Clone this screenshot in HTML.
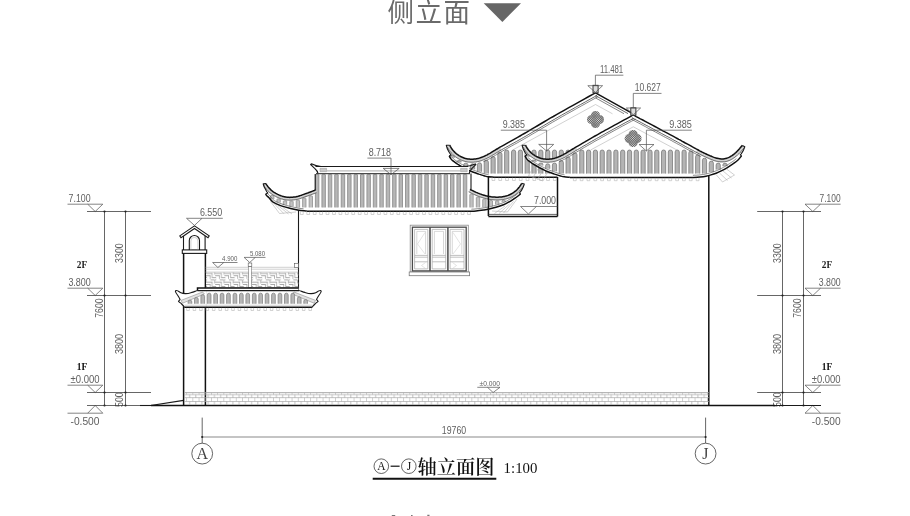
<!DOCTYPE html>
<html><head><meta charset="utf-8"><title>侧立面</title>
<style>
html,body{margin:0;padding:0;background:#fff}
body{width:910px;height:516px;overflow:hidden;position:relative}
svg{position:absolute;left:0;top:0;display:block;will-change:transform}
.d{font-family:"Liberation Sans",sans-serif;fill:#606060}
.s{font-family:"Liberation Serif","Noto Serif CJK SC",serif}
.m{font-family:"Liberation Mono",monospace}
.h{font-family:"Liberation Sans","Noto Sans CJK SC",sans-serif}
.k{stroke:#111;stroke-width:1.5;fill:none}
.k2{stroke:#1a1a1a;stroke-width:1.1;fill:none}
.n{stroke:#333;stroke-width:.75;fill:none}
.t{stroke:#505050;stroke-width:.7;fill:none}
.g{stroke:#aaa;stroke-width:.55;fill:none}
</style></head><body>
<svg width="910" height="516" viewBox="0 0 910 516">
<text class="h" x="387.6" y="21.5" font-size="26.5" font-weight="400" fill="#6a6a6a" letter-spacing="1.5">侧立面</text>
<path d="M483.7 3.3H521L502.4 22Z" fill="#666"/>
<path d="M391.8 515.6H395.2M411 515.5H412.6M427.3 515.3H429.5" stroke="#777" stroke-width="1.2"/>
<path class="n" d="M87 211.5H151"/>
<path class="n" d="M87 295.5H151"/>
<path class="n" d="M87 392.5H151"/>
<path class="n" d="M104.5 211.5V405.5 M125.5 211.5V405.5"/>
<circle cx="104.5" cy="211.5" r="1.1" fill="#222"/>
<circle cx="125.5" cy="211.5" r="1.1" fill="#222"/>
<circle cx="104.5" cy="295.5" r="1.1" fill="#222"/>
<circle cx="125.5" cy="295.5" r="1.1" fill="#222"/>
<circle cx="104.5" cy="392.5" r="1.1" fill="#222"/>
<circle cx="125.5" cy="392.5" r="1.1" fill="#222"/>
<circle cx="104.5" cy="405.5" r="1.1" fill="#222"/>
<circle cx="125.5" cy="405.5" r="1.1" fill="#222"/>
<path class="t" d="M67.5 204.2H102.8L95.2 211.5L87.7 204.2"/>
<path class="t" d="M67.5 288.2H102.8L95.2 295.5L87.7 288.2"/>
<path class="t" d="M67.5 385.2H102.8L95.2 392.5L87.7 385.2"/>
<text class="d" x="68.6" y="201.8" font-size="11" textLength="22" lengthAdjust="spacingAndGlyphs" text-anchor="start">7.100</text>
<text class="d" x="68.4" y="285.8" font-size="11" textLength="22.4" lengthAdjust="spacingAndGlyphs" text-anchor="start">3.800</text>
<text class="d" x="70.5" y="382.6" font-size="11" textLength="29" lengthAdjust="spacingAndGlyphs" text-anchor="start">±0.000</text>
<path class="t" d="M67.5 413.2H102.8L95.2 405.5L87.7 413.2"/>
<text class="d" x="70.5" y="425.2" font-size="11" textLength="29" lengthAdjust="spacingAndGlyphs" text-anchor="start">-0.500</text>
<text class="s" x="82" y="268.3" font-size="9.3" font-weight="bold" text-anchor="middle" fill="#222">2F</text>
<text class="s" x="82" y="369.8" font-size="9.5" font-weight="bold" text-anchor="middle" fill="#111">1F</text>
<text class="d" transform="translate(122.6 253.1) rotate(-90)" font-size="11" textLength="19.6" lengthAdjust="spacingAndGlyphs" text-anchor="middle">3300</text>
<text class="d" transform="translate(122.6 344) rotate(-90)" font-size="11" textLength="20.2" lengthAdjust="spacingAndGlyphs" text-anchor="middle">3800</text>
<text class="d" transform="translate(103.2 308.1) rotate(-90)" font-size="11" textLength="19.2" lengthAdjust="spacingAndGlyphs" text-anchor="middle">7600</text>
<text class="d" transform="translate(122.6 399.6) rotate(-90)" font-size="11" textLength="14.8" lengthAdjust="spacingAndGlyphs" text-anchor="middle">500</text>
<path class="n" d="M757.2 211.5H821"/>
<path class="n" d="M757.2 295.5H821"/>
<path class="n" d="M757.2 392.5H821"/>
<path class="n" d="M782.5 211.5V405.5 M803.5 211.5V405.5"/>
<circle cx="782.5" cy="211.5" r="1.1" fill="#222"/>
<circle cx="803.5" cy="211.5" r="1.1" fill="#222"/>
<circle cx="782.5" cy="295.5" r="1.1" fill="#222"/>
<circle cx="803.5" cy="295.5" r="1.1" fill="#222"/>
<circle cx="782.5" cy="392.5" r="1.1" fill="#222"/>
<circle cx="803.5" cy="392.5" r="1.1" fill="#222"/>
<circle cx="782.5" cy="405.5" r="1.1" fill="#222"/>
<circle cx="803.5" cy="405.5" r="1.1" fill="#222"/>
<path class="t" d="M840.6 204.2H805L812.8 211.5L820.5 204.2"/>
<path class="t" d="M840.6 288.2H805L812.8 295.5L820.5 288.2"/>
<path class="t" d="M840.6 385.2H805L812.8 392.5L820.5 385.2"/>
<text class="d" x="819.6" y="201.8" font-size="11" textLength="21" lengthAdjust="spacingAndGlyphs" text-anchor="start">7.100</text>
<text class="d" x="818.8" y="285.8" font-size="11" textLength="21.8" lengthAdjust="spacingAndGlyphs" text-anchor="start">3.800</text>
<text class="d" x="811.8" y="382.5" font-size="11" textLength="28.8" lengthAdjust="spacingAndGlyphs" text-anchor="start">±0.000</text>
<path class="t" d="M840.6 413.2H805L812.8 405.5L820.5 413.2"/>
<text class="d" x="811.8" y="425.1" font-size="11" textLength="28.8" lengthAdjust="spacingAndGlyphs" text-anchor="start">-0.500</text>
<text class="s" x="827" y="268.3" font-size="9.3" font-weight="bold" text-anchor="middle" fill="#222">2F</text>
<text class="s" x="827" y="369.8" font-size="9.5" font-weight="bold" text-anchor="middle" fill="#111">1F</text>
<text class="d" transform="translate(780.6 253.1) rotate(-90)" font-size="11" textLength="19.6" lengthAdjust="spacingAndGlyphs" text-anchor="middle">3300</text>
<text class="d" transform="translate(780.6 344) rotate(-90)" font-size="11" textLength="20.2" lengthAdjust="spacingAndGlyphs" text-anchor="middle">3800</text>
<text class="d" transform="translate(800.9 308.1) rotate(-90)" font-size="11" textLength="19.2" lengthAdjust="spacingAndGlyphs" text-anchor="middle">7600</text>
<text class="d" transform="translate(780.6 399.6) rotate(-90)" font-size="11" textLength="14.8" lengthAdjust="spacingAndGlyphs" text-anchor="middle">500</text>
<path class="n" d="M87 405.5H151"/>
<path class="k2" stroke-width=".9" d="M150.7 405.5L183.6 400.4"/>
<path class="k2" d="M140 405.5H151"/>
<path class="k" d="M151 405.5H775"/>
<path class="k2" stroke-width=".9" d="M775 405.5H821"/>
<path class="k" stroke-width="1.3" d="M708.8 176V405.5"/>
<path class="k2" d="M298.5 211V290"/>
<path class="k" stroke-width="1.3" d="M183.6 253.3V405.5"/>
<path class="k" stroke-width="1.8" d="M205.4 253.3V405.5"/>
<path class="n" d="M202.2 417.6V443.1 M705.6 417.6V443.1"/>
<path stroke="#8a8a8a" stroke-width="1.1" d="M202.2 437H705.6"/>
<circle cx="202.2" cy="437" r="1.1" fill="#222"/>
<circle cx="705.6" cy="437" r="1.1" fill="#222"/>
<circle class="n" stroke="#444" stroke-width=".7" cx="202.2" cy="453.6" r="10.4"/>
<circle class="n" stroke="#444" stroke-width=".7" cx="705.6" cy="453.6" r="10.4"/>
<text class="s" x="202.2" y="459" font-size="16" text-anchor="middle" fill="#444">A</text>
<text class="s" x="705.4" y="459" font-size="16" text-anchor="middle" fill="#444">J</text>
<text class="d" x="441.8" y="433.8" font-size="10.5" textLength="24.4" lengthAdjust="spacingAndGlyphs" text-anchor="start">19760</text>
<circle class="n" cx="381.3" cy="466.2" r="7.3" stroke="#222"/>
<circle class="n" cx="408.8" cy="466.2" r="7.3" stroke="#222"/>
<text class="s" x="381.3" y="470.2" font-size="11.5" text-anchor="middle" fill="#111">A</text>
<text class="s" x="408.9" y="470.2" font-size="11.5" text-anchor="middle" fill="#111">J</text>
<path d="M390.6 466.2H399.6" stroke="#111" stroke-width="1.2"/>
<text class="s" x="417.5" y="473.5" font-size="19.2" font-weight="600" fill="#111" textLength="77" lengthAdjust="spacing">轴立面图</text>
<path d="M372.7 478.7H496.3" stroke="#111" stroke-width="2"/>
<text class="s" x="503.6" y="473" font-size="15" fill="#111" textLength="33.8" lengthAdjust="spacingAndGlyphs">1:100</text>
<pattern id="bk" x="186.2" y="392.5" width="6.2" height="13.2" patternUnits="userSpaceOnUse"><path d="M0 2.1H6.2M0 5.2H6.2M0 9H6.2M.3 0V2.1M3.4 2.1V5.2M.3 5.2V9M3.4 9V13" stroke="#a2a2a2" stroke-width=".65" fill="none"/></pattern>
<rect x="184" y="392.5" width="525" height="12.6" fill="url(#bk)"/>
<path stroke="#9a9a9a" stroke-width=".8" d="M184.6 392.6H709"/>
<path class="t" d="M477.3 387.3H500L493.1 392.5L487.5 387.3"/>
<text class="d" x="479.6" y="385.8" font-size="7.2" textLength="20.4" lengthAdjust="spacingAndGlyphs" text-anchor="start">±0.000</text>
<rect x="410.2" y="225.2" width="58.1" height="46.8" fill="#fff" stroke="#8a8a8a" stroke-width=".8"/>
<rect x="409.2" y="272" width="60.4" height="3.7" fill="#fff" stroke="#7a7a7a" stroke-width=".8"/>
<path d="M414.6 229.4H427.8V268.9H414.6ZM432.2 229.4H445.7V268.9H432.2ZM450.1 229.4H464V268.9H450.1Z M414.6 255.4H427.8M432.2 255.4H445.7M450.1 255.4H464 M414.6 257.2H427.8M432.2 257.2H445.7M450.1 257.2H464 M414.6 261.8H427.8M432.2 261.8H445.7M450.1 261.8H464" stroke="#a6a6a6" stroke-width=".7" fill="none"/>
<path d="M416.8 231.4V254M425.6 231.4V254M434.4 231.4V254M443.5 231.4V254M452.3 231.4V254M461.8 231.4V254M416.8 231.4H425.6M434.4 231.4H443.5M452.3 231.4H461.8" stroke="#bdbdbd" stroke-width=".6" fill="none"/>
<path d="M425 232.5L417.5 244L425 254M425.5 262.5L421.5 265.5L425.5 268.5M453 232.5L460.5 244L453 254M452.5 262.5L456.5 265.5L452.5 268.5" stroke="#c6c6c6" stroke-width=".5" fill="none"/>
<rect x="412.4" y="227.2" width="53.8" height="43.7" fill="none" stroke="#4a4a4a" stroke-width="1.3"/>
<path d="M430 227.2V270.9M447.9 227.2V270.9" stroke="#4a4a4a" stroke-width="1.5"/>
<rect class="k2" stroke-width="1.2" x="182.3" y="249.9" width="24.4" height="3.5" fill="#fff"/>
<path class="k2" stroke-width="1.2" d="M183.5 249.9V236M205.1 249.9V236"/>
<path class="k2" stroke-width="1.3" d="M189.3 249.9V240.6A5.1 5.1 0 0 1 199.5 240.6V249.9"/>
<path class="g" stroke="#999" d="M190.9 249.5V241A3.5 3.6 0 0 1 197.9 241V249.5"/>
<path class="k2" stroke-width="1.2" stroke-linejoin="miter" d="M179.8 235.9L194.5 225.8L209.2 235.9L208 237.7L194.5 228.5L181 237.7Z" fill="#fff"/>
<path class="t" d="M186.5 218.3H222.8M186.5 218.3L194.5 225.4L202 218.3"/>
<text class="d" x="199.9" y="215.9" font-size="11" textLength="22.3" lengthAdjust="spacingAndGlyphs" text-anchor="start">6.550</text>
<pattern id="lat" x="206" y="272.3" width="9.2" height="8.8" patternUnits="userSpaceOnUse"><path d="M-1 2.2H5.2V6.6M4.6 6.6H10.2M9.6 6.6V11M9.6 -2.2V2.2M-4.6 6.6H1" stroke="#8c8c8c" stroke-width="2.7" fill="none"/><path d="M-1 2.2H5.2V6.6M4.6 6.6H10.2M9.6 6.6V11M9.6 -2.2V2.2M-4.6 6.6H1" stroke="#fff" stroke-width="1.5" fill="none"/></pattern>
<rect x="206" y="272.3" width="92.2" height="15.2" fill="url(#lat)"/>
<path class="g" stroke="#888" d="M205.4 267.3H298.5M205.4 269.2H298.5M205.4 272.1H298.5M205.4 287.6H298.5"/>
<rect x="248.6" y="266.3" width="2.8" height="21" fill="#fff" stroke="#777" stroke-width=".6"/>
<rect x="248.2" y="263" width="3.6" height="3.3" fill="#fff" stroke="#555" stroke-width=".6"/>
<rect x="294.5" y="263.3" width="4" height="4.1" fill="#fff" stroke="#555" stroke-width=".6"/>
<path class="t" d="M212.6 262.5H237.5M212.6 262.5L217.9 267.5L223.8 262.5"/>
<text class="d" x="222.1" y="260.6" font-size="7.4" textLength="15.2" lengthAdjust="spacingAndGlyphs" text-anchor="start">4.900</text>
<path class="t" d="M244.1 257.4H265.5M244.1 257.4L249.7 262.5L255.3 257.4"/>
<text class="d" x="250" y="255.8" font-size="7.4" textLength="15" lengthAdjust="spacingAndGlyphs" text-anchor="start">5.080</text>
<g>
<path d="M197.5 290.5C195 291.3 193.5 292 191.7 292.4C189.5 293.1 187.5 293.6 185.5 293.6C183.8 293.6 182.3 293.4 180.9 292.8C179.7 292.3 178.8 291.5 177.8 290.9C177.1 290.5 176.5 290.4 175.8 290.5L175.4 291.6C176 293 176.9 294.3 177.8 295.5C178.7 296.9 179.5 298.2 180.1 299.4L178.5 301.3C179.6 302.3 180.7 303.2 181.6 304L183.6 306L184.3 307H206.5V288Z" fill="#fff"/>
<path d="M202.6 292L181 300.4L182.6 303.2L204.4 294Z" fill="#e2e2e2" stroke="#777" stroke-width=".5"/>
<path class="k2" stroke-width="1.2" stroke-linejoin="round" d="M197.5 290.5C195 291.3 193.5 292 191.7 292.4C189.5 293.1 187.5 293.6 185.5 293.6C183.8 293.6 182.3 293.4 180.9 292.8C179.7 292.3 178.8 291.5 177.8 290.9C177.1 290.5 176.5 290.4 175.8 290.5L175.4 291.6C176 293 176.9 294.3 177.8 295.5C178.7 296.9 179.5 298.2 180.1 299.4L178.5 301.3C179.6 302.3 180.7 303.2 181.6 304L183.6 306L184.3 307"/>
</g>
<g transform="translate(496.6 0) scale(-1 1)">
<path d="M197.5 290.5C195 291.3 193.5 292 191.7 292.4C189.5 293.1 187.5 293.6 185.5 293.6C183.8 293.6 182.3 293.4 180.9 292.8C179.7 292.3 178.8 291.5 177.8 290.9C177.1 290.5 176.5 290.4 175.8 290.5L175.4 291.6C176 293 176.9 294.3 177.8 295.5C178.7 296.9 179.5 298.2 180.1 299.4L178.5 301.3C179.6 302.3 180.7 303.2 181.6 304L183.6 306L184.3 307H206.5V288Z" fill="#fff"/>
<path d="M202.6 292L181 300.4L182.6 303.2L204.4 294Z" fill="#e2e2e2" stroke="#777" stroke-width=".5"/>
<path class="k2" stroke-width="1.2" stroke-linejoin="round" d="M197.5 290.5C195 291.3 193.5 292 191.7 292.4C189.5 293.1 187.5 293.6 185.5 293.6C183.8 293.6 182.3 293.4 180.9 292.8C179.7 292.3 178.8 291.5 177.8 290.9C177.1 290.5 176.5 290.4 175.8 290.5L175.4 291.6C176 293 176.9 294.3 177.8 295.5C178.7 296.9 179.5 298.2 180.1 299.4L178.5 301.3C179.6 302.3 180.7 303.2 181.6 304L183.6 306L184.3 307"/>
</g>
<path d="M188.1 303.7V301.9Q188.1 300.1 189.9 300.1Q191.8 300.1 191.8 301.9V303.7" fill="#b6b6b6" stroke="#7a7a7a" stroke-width=".7"/>
<path d="M194.5 303.7V299.2Q194.5 297.4 196.3 297.4Q198.2 297.4 198.2 299.2V303.7" fill="#b6b6b6" stroke="#7a7a7a" stroke-width=".7"/>
<path d="M200.9 303.7V296.5Q200.9 294.7 202.8 294.7Q204.6 294.7 204.6 296.5V303.7" fill="#b6b6b6" stroke="#7a7a7a" stroke-width=".7"/>
<path d="M207.3 303.7V295Q207.3 293.2 209.2 293.2Q211 293.2 211 295V303.7" fill="#b6b6b6" stroke="#7a7a7a" stroke-width=".7"/>
<path d="M213.8 303.7V295Q213.8 293.2 215.6 293.2Q217.5 293.2 217.5 295V303.7" fill="#b6b6b6" stroke="#7a7a7a" stroke-width=".7"/>
<path d="M220.2 303.7V295Q220.2 293.2 222.1 293.2Q223.9 293.2 223.9 295V303.7" fill="#b6b6b6" stroke="#7a7a7a" stroke-width=".7"/>
<path d="M226.6 303.7V295Q226.6 293.2 228.5 293.2Q230.3 293.2 230.3 295V303.7" fill="#b6b6b6" stroke="#7a7a7a" stroke-width=".7"/>
<path d="M233.1 303.7V295Q233.1 293.2 234.9 293.2Q236.8 293.2 236.8 295V303.7" fill="#b6b6b6" stroke="#7a7a7a" stroke-width=".7"/>
<path d="M239.5 303.7V295Q239.5 293.2 241.3 293.2Q243.2 293.2 243.2 295V303.7" fill="#b6b6b6" stroke="#7a7a7a" stroke-width=".7"/>
<path d="M245.9 303.7V295Q245.9 293.2 247.8 293.2Q249.6 293.2 249.6 295V303.7" fill="#b6b6b6" stroke="#7a7a7a" stroke-width=".7"/>
<path d="M252.4 303.7V295Q252.4 293.2 254.2 293.2Q256.1 293.2 256.1 295V303.7" fill="#b6b6b6" stroke="#7a7a7a" stroke-width=".7"/>
<path d="M258.8 303.7V295Q258.8 293.2 260.6 293.2Q262.5 293.2 262.5 295V303.7" fill="#b6b6b6" stroke="#7a7a7a" stroke-width=".7"/>
<path d="M265.2 303.7V295Q265.2 293.2 267.1 293.2Q268.9 293.2 268.9 295V303.7" fill="#b6b6b6" stroke="#7a7a7a" stroke-width=".7"/>
<path d="M271.6 303.7V295Q271.6 293.2 273.5 293.2Q275.3 293.2 275.3 295V303.7" fill="#b6b6b6" stroke="#7a7a7a" stroke-width=".7"/>
<path d="M278.1 303.7V295Q278.1 293.2 279.9 293.2Q281.8 293.2 281.8 295V303.7" fill="#b6b6b6" stroke="#7a7a7a" stroke-width=".7"/>
<path d="M284.5 303.7V295Q284.5 293.2 286.4 293.2Q288.2 293.2 288.2 295V303.7" fill="#b6b6b6" stroke="#7a7a7a" stroke-width=".7"/>
<path d="M290.9 303.7V295Q290.9 293.2 292.8 293.2Q294.6 293.2 294.6 295V303.7" fill="#b6b6b6" stroke="#7a7a7a" stroke-width=".7"/>
<path d="M297.4 303.7V298.6Q297.4 296.8 299.2 296.8Q301.1 296.8 301.1 298.6V303.7" fill="#b6b6b6" stroke="#7a7a7a" stroke-width=".7"/>
<path d="M303.8 303.7V301.3Q303.8 299.5 305.6 299.5Q307.5 299.5 307.5 301.3V303.7" fill="#b6b6b6" stroke="#7a7a7a" stroke-width=".7"/>
<rect x="197.5" y="288.1" width="101" height="2.2" fill="#fff"/>
<path class="k" stroke-width="1.1" d="M197.5 290.8V288H298.6"/>
<path class="k2" stroke-width=".9" d="M197.5 290.6H299"/>
<path class="g" stroke="#c4c4c4" d="M184.5 305.2H312.2"/>
<path class="k" stroke-width="1.1" d="M184.3 307.3H312.4"/>
<path d="M186.7 307.8v2.7h2.6v-2.7M193.1 307.8v2.7h2.6v-2.7M199.6 307.8v2.7h2.6v-2.7M206 307.8v2.7h2.6v-2.7M212.4 307.8v2.7h2.6v-2.7M218.9 307.8v2.7h2.6v-2.7M225.3 307.8v2.7h2.6v-2.7M231.7 307.8v2.7h2.6v-2.7M238.1 307.8v2.7h2.6v-2.7M244.6 307.8v2.7h2.6v-2.7M251 307.8v2.7h2.6v-2.7M257.4 307.8v2.7h2.6v-2.7M263.9 307.8v2.7h2.6v-2.7M270.3 307.8v2.7h2.6v-2.7M276.7 307.8v2.7h2.6v-2.7M283.2 307.8v2.7h2.6v-2.7M289.6 307.8v2.7h2.6v-2.7M296 307.8v2.7h2.6v-2.7M302.4 307.8v2.7h2.6v-2.7M308.9 307.8v2.7h2.6v-2.7" fill="none" stroke="#a8a8a8" stroke-width=".5"/>
<path d="M315.4 207.4V174.7Q315.4 174.3 317.2 174.3Q318.9 174.3 318.9 174.7V207.4" fill="#b6b6b6" stroke="#7c7c7c" stroke-width=".7"/>
<path d="M321.9 207.4V174.7Q321.9 174.3 323.6 174.3Q325.4 174.3 325.4 174.7V207.4" fill="#b6b6b6" stroke="#7c7c7c" stroke-width=".7"/>
<path d="M328.3 207.4V174.7Q328.3 174.3 330.1 174.3Q331.8 174.3 331.8 174.7V207.4" fill="#b6b6b6" stroke="#7c7c7c" stroke-width=".7"/>
<path d="M334.7 207.4V174.7Q334.7 174.3 336.5 174.3Q338.2 174.3 338.2 174.7V207.4" fill="#b6b6b6" stroke="#7c7c7c" stroke-width=".7"/>
<path d="M341.2 207.4V174.7Q341.2 174.3 342.9 174.3Q344.7 174.3 344.7 174.7V207.4" fill="#b6b6b6" stroke="#7c7c7c" stroke-width=".7"/>
<path d="M347.6 207.4V174.7Q347.6 174.3 349.4 174.3Q351.1 174.3 351.1 174.7V207.4" fill="#b6b6b6" stroke="#7c7c7c" stroke-width=".7"/>
<path d="M354 207.4V174.7Q354 174.3 355.8 174.3Q357.5 174.3 357.5 174.7V207.4" fill="#b6b6b6" stroke="#7c7c7c" stroke-width=".7"/>
<path d="M360.5 207.4V174.7Q360.5 174.3 362.2 174.3Q364 174.3 364 174.7V207.4" fill="#b6b6b6" stroke="#7c7c7c" stroke-width=".7"/>
<path d="M366.9 207.4V174.7Q366.9 174.3 368.6 174.3Q370.4 174.3 370.4 174.7V207.4" fill="#b6b6b6" stroke="#7c7c7c" stroke-width=".7"/>
<path d="M373.3 207.4V174.7Q373.3 174.3 375.1 174.3Q376.8 174.3 376.8 174.7V207.4" fill="#b6b6b6" stroke="#7c7c7c" stroke-width=".7"/>
<path d="M379.8 207.4V174.7Q379.8 174.3 381.5 174.3Q383.3 174.3 383.3 174.7V207.4" fill="#b6b6b6" stroke="#7c7c7c" stroke-width=".7"/>
<path d="M386.2 207.4V174.7Q386.2 174.3 387.9 174.3Q389.7 174.3 389.7 174.7V207.4" fill="#b6b6b6" stroke="#7c7c7c" stroke-width=".7"/>
<path d="M392.6 207.4V174.7Q392.6 174.3 394.4 174.3Q396.1 174.3 396.1 174.7V207.4" fill="#b6b6b6" stroke="#7c7c7c" stroke-width=".7"/>
<path d="M399 207.4V174.7Q399 174.3 400.8 174.3Q402.5 174.3 402.5 174.7V207.4" fill="#b6b6b6" stroke="#7c7c7c" stroke-width=".7"/>
<path d="M405.5 207.4V174.7Q405.5 174.3 407.2 174.3Q409 174.3 409 174.7V207.4" fill="#b6b6b6" stroke="#7c7c7c" stroke-width=".7"/>
<path d="M411.9 207.4V174.7Q411.9 174.3 413.7 174.3Q415.4 174.3 415.4 174.7V207.4" fill="#b6b6b6" stroke="#7c7c7c" stroke-width=".7"/>
<path d="M418.3 207.4V174.7Q418.3 174.3 420.1 174.3Q421.8 174.3 421.8 174.7V207.4" fill="#b6b6b6" stroke="#7c7c7c" stroke-width=".7"/>
<path d="M424.8 207.4V174.7Q424.8 174.3 426.5 174.3Q428.3 174.3 428.3 174.7V207.4" fill="#b6b6b6" stroke="#7c7c7c" stroke-width=".7"/>
<path d="M431.2 207.4V174.7Q431.2 174.3 432.9 174.3Q434.7 174.3 434.7 174.7V207.4" fill="#b6b6b6" stroke="#7c7c7c" stroke-width=".7"/>
<path d="M437.6 207.4V174.7Q437.6 174.3 439.4 174.3Q441.1 174.3 441.1 174.7V207.4" fill="#b6b6b6" stroke="#7c7c7c" stroke-width=".7"/>
<path d="M444.1 207.4V174.7Q444.1 174.3 445.8 174.3Q447.6 174.3 447.6 174.7V207.4" fill="#b6b6b6" stroke="#7c7c7c" stroke-width=".7"/>
<path d="M450.5 207.4V174.7Q450.5 174.3 452.2 174.3Q454 174.3 454 174.7V207.4" fill="#b6b6b6" stroke="#7c7c7c" stroke-width=".7"/>
<path d="M456.9 207.4V174.7Q456.9 174.3 458.7 174.3Q460.4 174.3 460.4 174.7V207.4" fill="#b6b6b6" stroke="#7c7c7c" stroke-width=".7"/>
<path d="M463.3 207.4V174.7Q463.3 174.3 465.1 174.3Q466.8 174.3 466.8 174.7V207.4" fill="#b6b6b6" stroke="#7c7c7c" stroke-width=".7"/>
<path d="M309.1 207.4V196.2Q309.1 195.8 310.8 195.8Q312.5 195.8 312.5 196.2V207.4" fill="#c2c2c2" stroke="#858585" stroke-width=".7"/>
<path d="M302.6 207.4V198.5Q302.6 198.1 304.3 198.1Q306 198.1 306 198.5V207.4" fill="#c2c2c2" stroke="#858585" stroke-width=".7"/>
<path d="M296.2 207.4V200.6Q296.2 200.2 297.9 200.2Q299.6 200.2 299.6 200.6V207.4" fill="#c2c2c2" stroke="#858585" stroke-width=".7"/>
<path d="M289.8 206.3V201.5Q289.8 201.1 291.5 201.1Q293.2 201.1 293.2 201.5V206.3" fill="#c2c2c2" stroke="#858585" stroke-width=".7"/>
<path d="M283.3 204.7V201.2Q283.3 200.8 285 200.8Q286.7 200.8 286.7 201.2V204.7" fill="#c2c2c2" stroke="#858585" stroke-width=".7"/>
<path d="M276.9 202.5V199.3Q276.9 198.9 278.6 198.9Q280.3 198.9 280.3 199.3V202.5" fill="#c2c2c2" stroke="#858585" stroke-width=".7"/>
<path d="M270.5 199.1V195.8Q270.5 195.4 272.2 195.4Q273.9 195.4 273.9 195.8V199.1" fill="#c2c2c2" stroke="#858585" stroke-width=".7"/>
<path d="M469.8 207.4V194.6Q469.8 194.2 471.5 194.2Q473.2 194.2 473.2 194.6V207.4" fill="#c2c2c2" stroke="#858585" stroke-width=".7"/>
<path d="M476.3 207.4V197.5Q476.3 197.1 478 197.1Q479.7 197.1 479.7 197.5V207.4" fill="#c2c2c2" stroke="#858585" stroke-width=".7"/>
<path d="M482.7 207.4V199.6Q482.7 199.2 484.4 199.2Q486.1 199.2 486.1 199.6V207.4" fill="#c2c2c2" stroke="#858585" stroke-width=".7"/>
<path d="M489.1 206.2V200.9Q489.1 200.5 490.8 200.5Q492.5 200.5 492.5 200.9V206.2" fill="#c2c2c2" stroke="#858585" stroke-width=".7"/>
<path d="M495.5 204.5V201.4Q495.5 201 497.2 201Q498.9 201 498.9 201.4V204.5" fill="#c2c2c2" stroke="#858585" stroke-width=".7"/>
<path d="M502 202.2V200.8Q502 200.4 503.7 200.4Q505.4 200.4 505.4 200.8V202.2" fill="#c2c2c2" stroke="#858585" stroke-width=".7"/>
<path class="k" d="M306.8 211.2H468"/>
<path d="M300.4 211.6v2.9h2.8v-2.9M306.8 211.6v2.9h2.8v-2.9M313.3 211.6v2.9h2.8v-2.9M319.7 211.6v2.9h2.8v-2.9M326.1 211.6v2.9h2.8v-2.9M332.6 211.6v2.9h2.8v-2.9M339 211.6v2.9h2.8v-2.9M345.4 211.6v2.9h2.8v-2.9M351.8 211.6v2.9h2.8v-2.9M358.3 211.6v2.9h2.8v-2.9M364.7 211.6v2.9h2.8v-2.9M371.1 211.6v2.9h2.8v-2.9M377.6 211.6v2.9h2.8v-2.9M384 211.6v2.9h2.8v-2.9M390.4 211.6v2.9h2.8v-2.9M396.9 211.6v2.9h2.8v-2.9M403.3 211.6v2.9h2.8v-2.9M409.7 211.6v2.9h2.8v-2.9M416.1 211.6v2.9h2.8v-2.9M422.6 211.6v2.9h2.8v-2.9M429 211.6v2.9h2.8v-2.9M435.4 211.6v2.9h2.8v-2.9M441.9 211.6v2.9h2.8v-2.9M448.3 211.6v2.9h2.8v-2.9M454.7 211.6v2.9h2.8v-2.9M461.2 211.6v2.9h2.8v-2.9M467.6 211.6v2.9h2.8v-2.9" fill="none" stroke="#a8a8a8" stroke-width=".5"/>
<path class="g" d="M270.5 201.5L279.5 213.5M274 203.5L284 213.8M278 205.5L288.5 214M282.5 207.2L292 214M279.5 213.5L296 212"/>
<path class="g" d="M517 199L507.5 212M513.5 201.5L503.5 213M509.5 204L499 213.5M505 206L494.5 213.5M507.5 212L492 211"/>
<path d="M266.1 183.6 L266.2 183.8 L266.4 184.1 L266.5 184.4 L266.7 184.8 L266.9 185.1 L267.2 185.5 L267.4 185.9 L267.6 186.2 L267.8 186.5 L268.1 186.8 L268.3 187.1 L268.5 187.4 L268.8 187.6 L269 187.9 L269.3 188.2 L269.6 188.5 L269.9 188.8 L270.2 189.1 L270.5 189.4 L270.8 189.8 L271.2 190.1 L271.5 190.4 L271.8 190.7 L272.2 191 L272.6 191.3 L272.9 191.6 L273.3 191.8 L273.7 192.1 L274.1 192.3 L274.5 192.6 L275 192.8 L275.4 193.1 L275.9 193.4 L276.3 193.6 L276.8 193.9 L277.3 194.1 L277.8 194.4 L278.3 194.6 L278.8 194.9 L279.3 195.1 L279.8 195.3 L280.3 195.5 L280.9 195.7 L281.4 195.9 L282 196.1 L282.5 196.3 L283.1 196.5 L283.6 196.6 L284.1 196.7 L284.7 196.8 L285.2 197 L285.8 197 L286.3 197.1 L286.9 197.2 L287.4 197.3 L288 197.3 L288.6 197.3 L289.2 197.3 L289.8 197.4 L290.4 197.3 L291.1 197.3 L291.7 197.3 L292.3 197.3 L292.9 197.2 L293.5 197.1 L294.1 197.1 L294.7 197 L295.3 196.9 L295.9 196.8 L296.4 196.7 L297 196.5 L297.6 196.4 L298.2 196.3 L298.7 196.1 L299.2 196 L299.7 195.8 L300.2 195.6 L300.8 195.4 L301.5 195.2 L302.2 194.9 L303.1 194.6 L304 194.3 L305.1 193.9 L306.2 193.5 L307.3 193.1 L308.4 192.7 L309.4 192.3 L310.3 192 L311.1 191.7 L311.9 191.4 L312.7 191.1 L313.5 190.8 L314.1 190.6 L314.7 190.3 L315.2 190.1 L315.6 190 L316.6 192.6 L316.2 192.8 L315.7 193 L315.1 193.2 L314.5 193.4 L313.7 193.7 L312.9 194 L312.1 194.3 L311.3 194.6 L310.4 195 L309.3 195.3 L308.3 195.7 L307.2 196.1 L306 196.5 L305 196.9 L304 197.2 L303.1 197.5 L302.4 197.8 L301.7 198 L301.1 198.2 L300.6 198.4 L300 198.6 L299.5 198.8 L298.9 199 L298.3 199.1 L297.6 199.3 L297 199.4 L296.4 199.5 L295.7 199.6 L295.1 199.8 L294.5 199.8 L293.8 199.9 L293.2 200 L292.5 200 L291.8 200.1 L291.2 200.1 L290.5 200.1 L289.8 200.2 L289.1 200.1 L288.5 200.1 L287.8 200.1 L287.2 200 L286.6 200 L285.9 199.9 L285.3 199.8 L284.7 199.7 L284.1 199.6 L283.5 199.5 L282.9 199.3 L282.3 199.1 L281.7 199 L281.1 198.8 L280.5 198.6 L279.9 198.4 L279.3 198.1 L278.8 197.9 L278.2 197.7 L277.6 197.4 L277.1 197.2 L276.5 196.9 L276 196.6 L275.5 196.3 L275 196.1 L274.5 195.8 L274 195.5 L273.5 195.3 L273.1 195 L272.6 194.7 L272.2 194.4 L271.8 194.1 L271.3 193.8 L270.9 193.5 L270.5 193.2 L270 192.8 L269.6 192.5 L269.2 192.1 L268.9 191.8 L268.5 191.4 L268.2 191.1 L267.9 190.7 L267.6 190.4 L267.3 190.1 L267 189.8 L266.7 189.5 L266.4 189.2 L266.2 188.9 L265.9 188.6 L265.6 188.2 L265.3 187.8 L265 187.4 L264.8 187 L264.5 186.5 L264.3 186.1 L264.1 185.7 L263.9 185.4 L263.8 185.1 L263.7 185Z" fill="#fff" stroke="none"/>
<path d="M266.1 183.6 L266.2 183.8 L266.4 184.1 L266.5 184.4 L266.7 184.8 L266.9 185.1 L267.2 185.5 L267.4 185.9 L267.6 186.2 L267.8 186.5 L268.1 186.8 L268.3 187.1 L268.5 187.4 L268.8 187.6 L269 187.9 L269.3 188.2 L269.6 188.5 L269.9 188.8 L270.2 189.1 L270.5 189.4 L270.8 189.8 L271.2 190.1 L271.5 190.4 L271.8 190.7 L272.2 191 L272.6 191.3 L272.9 191.6 L273.3 191.8 L273.7 192.1 L274.1 192.3 L274.5 192.6 L275 192.8 L275.4 193.1 L275.9 193.4 L276.3 193.6 L276.8 193.9 L277.3 194.1 L277.8 194.4 L278.3 194.6 L278.8 194.9 L279.3 195.1 L279.8 195.3 L280.3 195.5 L280.9 195.7 L281.4 195.9 L282 196.1 L282.5 196.3 L283.1 196.5 L283.6 196.6 L284.1 196.7 L284.7 196.8 L285.2 197 L285.8 197 L286.3 197.1 L286.9 197.2 L287.4 197.3 L288 197.3 L288.6 197.3 L289.2 197.3 L289.8 197.4 L290.4 197.3 L291.1 197.3 L291.7 197.3 L292.3 197.3 L292.9 197.2 L293.5 197.1 L294.1 197.1 L294.7 197 L295.3 196.9 L295.9 196.8 L296.4 196.7 L297 196.5 L297.6 196.4 L298.2 196.3 L298.7 196.1 L299.2 196 L299.7 195.8 L300.2 195.6 L300.8 195.4 L301.5 195.2 L302.2 194.9 L303.1 194.6 L304 194.3 L305.1 193.9 L306.2 193.5 L307.3 193.1 L308.4 192.7 L309.4 192.3 L310.3 192 L311.1 191.7 L311.9 191.4 L312.7 191.1 L313.5 190.8 L314.1 190.6 L314.7 190.3 L315.2 190.1 L315.6 190 L316.6 192.6 L316.2 192.8 L315.7 193 L315.1 193.2 L314.5 193.4 L313.7 193.7 L312.9 194 L312.1 194.3 L311.3 194.6 L310.4 195 L309.3 195.3 L308.3 195.7 L307.2 196.1 L306 196.5 L305 196.9 L304 197.2 L303.1 197.5 L302.4 197.8 L301.7 198 L301.1 198.2 L300.6 198.4 L300 198.6 L299.5 198.8 L298.9 199 L298.3 199.1 L297.6 199.3 L297 199.4 L296.4 199.5 L295.7 199.6 L295.1 199.8 L294.5 199.8 L293.8 199.9 L293.2 200 L292.5 200 L291.8 200.1 L291.2 200.1 L290.5 200.1 L289.8 200.2 L289.1 200.1 L288.5 200.1 L287.8 200.1 L287.2 200 L286.6 200 L285.9 199.9 L285.3 199.8 L284.7 199.7 L284.1 199.6 L283.5 199.5 L282.9 199.3 L282.3 199.1 L281.7 199 L281.1 198.8 L280.5 198.6 L279.9 198.4 L279.3 198.1 L278.8 197.9 L278.2 197.7 L277.6 197.4 L277.1 197.2 L276.5 196.9 L276 196.6 L275.5 196.3 L275 196.1 L274.5 195.8 L274 195.5 L273.5 195.3 L273.1 195 L272.6 194.7 L272.2 194.4 L271.8 194.1 L271.3 193.8 L270.9 193.5 L270.5 193.2 L270 192.8 L269.6 192.5 L269.2 192.1 L268.9 191.8 L268.5 191.4 L268.2 191.1 L267.9 190.7 L267.6 190.4 L267.3 190.1 L267 189.8 L266.7 189.5 L266.4 189.2 L266.2 188.9 L265.9 188.6 L265.6 188.2 L265.3 187.8 L265 187.4 L264.8 187 L264.5 186.5 L264.3 186.1 L264.1 185.7 L263.9 185.4 L263.8 185.1 L263.7 185Z" fill="#d2d2d2" stroke="none"/>
<path class="n" d="M263.7 185 L263.8 185.1 L263.9 185.4 L264.1 185.7 L264.3 186.1 L264.5 186.5 L264.8 187 L265 187.4 L265.3 187.8 L265.6 188.2 L265.9 188.6 L266.2 188.9 L266.4 189.2 L266.7 189.5 L267 189.8 L267.3 190.1 L267.6 190.4 L267.9 190.7 L268.2 191.1 L268.5 191.4 L268.9 191.8 L269.2 192.1 L269.6 192.5 L270 192.8 L270.5 193.2 L270.9 193.5 L271.3 193.8 L271.8 194.1 L272.2 194.4 L272.6 194.7 L273.1 195 L273.5 195.3 L274 195.5 L274.5 195.8 L275 196.1 L275.5 196.3 L276 196.6 L276.5 196.9 L277.1 197.2 L277.6 197.4 L278.2 197.7 L278.8 197.9 L279.3 198.1 L279.9 198.4 L280.5 198.6 L281.1 198.8 L281.7 199 L282.3 199.1 L282.9 199.3 L283.5 199.5 L284.1 199.6 L284.7 199.7 L285.3 199.8 L285.9 199.9 L286.6 200 L287.2 200 L287.8 200.1 L288.5 200.1 L289.1 200.1 L289.8 200.2 L290.5 200.1 L291.2 200.1 L291.8 200.1 L292.5 200 L293.2 200 L293.8 199.9 L294.5 199.8 L295.1 199.8 L295.7 199.6 L296.4 199.5 L297 199.4 L297.6 199.3 L298.3 199.1 L298.9 199 L299.5 198.8 L300 198.6 L300.6 198.4 L301.1 198.2 L301.7 198 L302.4 197.8 L303.1 197.5 L304 197.2 L305 196.9 L306 196.5 L307.2 196.1 L308.3 195.7 L309.3 195.3 L310.4 195 L311.3 194.6 L312.1 194.3 L312.9 194 L313.7 193.7 L314.5 193.4 L315.1 193.2 L315.7 193 L316.2 192.8 L316.6 192.6"/>
<path class="k" stroke-width="2.0" stroke-linejoin="round" d="M266.1 183.6 L266.2 183.8 L266.4 184.1 L266.5 184.4 L266.7 184.8 L266.9 185.1 L267.2 185.5 L267.4 185.9 L267.6 186.2 L267.8 186.5 L268.1 186.8 L268.3 187.1 L268.5 187.4 L268.8 187.6 L269 187.9 L269.3 188.2 L269.6 188.5 L269.9 188.8 L270.2 189.1 L270.5 189.4 L270.8 189.8 L271.2 190.1 L271.5 190.4 L271.8 190.7 L272.2 191 L272.6 191.3 L272.9 191.6 L273.3 191.8 L273.7 192.1 L274.1 192.3 L274.5 192.6 L275 192.8 L275.4 193.1 L275.9 193.4 L276.3 193.6 L276.8 193.9 L277.3 194.1 L277.8 194.4 L278.3 194.6 L278.8 194.9 L279.3 195.1 L279.8 195.3 L280.3 195.5 L280.9 195.7 L281.4 195.9 L282 196.1 L282.5 196.3 L283.1 196.5 L283.6 196.6 L284.1 196.7 L284.7 196.8 L285.2 197 L285.8 197 L286.3 197.1 L286.9 197.2 L287.4 197.3 L288 197.3 L288.6 197.3 L289.2 197.3 L289.8 197.4 L290.4 197.3 L291.1 197.3 L291.7 197.3 L292.3 197.3 L292.9 197.2 L293.5 197.1 L294.1 197.1 L294.7 197 L295.3 196.9 L295.9 196.8 L296.4 196.7 L297 196.5 L297.6 196.4 L298.2 196.3 L298.7 196.1 L299.2 196 L299.7 195.8 L300.2 195.6 L300.8 195.4 L301.5 195.2 L302.2 194.9 L303.1 194.6 L304 194.3 L305.1 193.9 L306.2 193.5 L307.3 193.1 L308.4 192.7 L309.4 192.3 L310.3 192 L311.1 191.7 L311.9 191.4 L312.7 191.1 L313.5 190.8 L314.1 190.6 L314.7 190.3 L315.2 190.1 L315.6 190"/>
<path class="k" d="M265.6 194C265.8 194.3 266.4 195.4 267 196C267.6 196.6 268 196.8 269 197.8C270 198.8 271.1 200.8 273.1 202.2C275.2 203.5 278.4 204.8 281.3 205.9C284.2 207 287.7 207.8 290.6 208.5C293.5 209.2 296 209.8 298.7 210.2C301.4 210.6 305.4 210.9 306.8 211.1"/>
<path class="t" d="M267.8 193.8 L268 194 L268.2 194.3 L268.4 194.5 L268.5 194.7 L268.6 194.8 L268.7 194.9 L268.9 195 L269.1 195.2 L269.3 195.4 L269.7 195.7 L270 196 L270.5 196.4 L270.9 196.9 L271.4 197.5 L271.8 198.1 L272.2 198.6 L272.7 199.2 L273.1 199.7 L273.6 200.1 L274.2 200.5 L274.9 201 L275.8 201.4 L276.7 201.9 L277.7 202.3 L278.7 202.8 L279.8 203.2 L280.9 203.6 L282 204 L283 204.4 L284.2 204.7 L285.3 205.1 L286.5 205.4 L287.7 205.7 L288.8 206 L290 206.3 L291.1 206.6 L292.1 206.8 L293.2 207.1 L294.2 207.3 L295.1 207.5 L296.1 207.7 L297.1 207.9 L298 208.1 L299 208.2 L300 208.4 L301.2 208.5 L302.3 208.6 L303.5 208.8"/>
<path class="k2" stroke-linejoin="round" d="M266.1 183.6L263.2 183.9C263.6 186 264.4 187.8 265.6 189.4C266.2 190.7 267 192 267.9 193.1L265.6 194"/>
<path d="M470 189.3 L470.4 189.5 L470.9 189.8 L471.5 190.1 L472.2 190.4 L472.9 190.8 L473.6 191.1 L474.3 191.5 L475 191.8 L475.6 192.1 L476.2 192.4 L476.9 192.6 L477.5 192.9 L478.1 193.2 L478.8 193.4 L479.4 193.7 L480 193.9 L480.6 194.1 L481.3 194.3 L481.9 194.6 L482.5 194.8 L483.2 195 L483.8 195.2 L484.4 195.3 L485 195.5 L485.6 195.7 L486.1 195.8 L486.7 195.9 L487.2 196.1 L487.8 196.2 L488.4 196.3 L488.9 196.4 L489.5 196.5 L490.1 196.6 L490.7 196.7 L491.3 196.8 L492 196.9 L492.6 196.9 L493.2 197 L493.9 197.1 L494.5 197.1 L495.1 197.1 L495.8 197.2 L496.4 197.2 L497 197.2 L497.7 197.2 L498.3 197.2 L498.9 197.1 L499.5 197.1 L500.1 197.1 L500.7 197 L501.2 196.9 L501.8 196.9 L502.3 196.8 L502.9 196.7 L503.4 196.6 L504 196.5 L504.6 196.4 L505.1 196.2 L505.7 196.1 L506.3 195.9 L506.8 195.8 L507.4 195.6 L508 195.4 L508.5 195.2 L509 195 L509.6 194.8 L510.1 194.5 L510.6 194.3 L511.1 194 L511.6 193.7 L512 193.5 L512.5 193.2 L513 192.9 L513.4 192.6 L513.8 192.3 L514.2 192 L514.6 191.7 L515 191.4 L515.4 191.1 L515.8 190.8 L516.2 190.5 L516.5 190.1 L516.9 189.8 L517.2 189.5 L517.5 189.1 L517.8 188.8 L518.1 188.4 L518.4 188.1 L518.7 187.8 L518.9 187.5 L519.2 187.1 L519.4 186.8 L519.7 186.5 L519.9 186.2 L520.1 185.9 L520.3 185.6 L520.5 185.3 L520.7 185 L520.9 184.7 L521.1 184.3 L521.2 184.1 L521.4 183.8 L521.5 183.6 L521.6 183.4 L524 184.8 L523.9 184.9 L523.8 185.2 L523.7 185.4 L523.5 185.7 L523.3 186.1 L523.1 186.4 L522.9 186.8 L522.6 187.2 L522.4 187.5 L522.2 187.8 L521.9 188.2 L521.7 188.5 L521.4 188.9 L521.1 189.2 L520.8 189.6 L520.5 189.9 L520.2 190.3 L519.9 190.6 L519.6 191 L519.2 191.4 L518.9 191.8 L518.5 192.1 L518.1 192.5 L517.6 192.9 L517.2 193.3 L516.8 193.6 L516.3 194 L515.9 194.3 L515.4 194.6 L514.9 195 L514.5 195.3 L513.9 195.6 L513.4 195.9 L512.9 196.2 L512.4 196.5 L511.8 196.8 L511.3 197 L510.7 197.3 L510.1 197.6 L509.5 197.8 L508.9 198 L508.3 198.2 L507.7 198.4 L507 198.6 L506.4 198.8 L505.8 199 L505.2 199.1 L504.6 199.2 L504 199.4 L503.4 199.5 L502.8 199.6 L502.1 199.7 L501.5 199.7 L500.9 199.8 L500.3 199.8 L499.7 199.9 L499 199.9 L498.4 200 L497.7 200 L497 200 L496.4 200 L495.7 200 L495 199.9 L494.3 199.9 L493.7 199.8 L493 199.8 L492.3 199.7 L491.6 199.6 L491 199.6 L490.3 199.5 L489.7 199.4 L489 199.3 L488.4 199.2 L487.8 199 L487.2 198.9 L486.6 198.8 L486.1 198.7 L485.5 198.5 L484.9 198.4 L484.3 198.2 L483.6 198 L483 197.8 L482.3 197.6 L481.7 197.4 L481 197.2 L480.4 197 L479.7 196.8 L479 196.5 L478.4 196.3 L477.7 196 L477.1 195.8 L476.4 195.5 L475.8 195.2 L475.1 194.9 L474.5 194.6 L473.8 194.3 L473.1 194 L472.4 193.7 L471.6 193.3 L470.9 192.9 L470.2 192.6 L469.6 192.2 L469.1 192 L468.7 191.8Z" fill="#fff" stroke="none"/>
<path d="M470 189.3 L470.4 189.5 L470.9 189.8 L471.5 190.1 L472.2 190.4 L472.9 190.8 L473.6 191.1 L474.3 191.5 L475 191.8 L475.6 192.1 L476.2 192.4 L476.9 192.6 L477.5 192.9 L478.1 193.2 L478.8 193.4 L479.4 193.7 L480 193.9 L480.6 194.1 L481.3 194.3 L481.9 194.6 L482.5 194.8 L483.2 195 L483.8 195.2 L484.4 195.3 L485 195.5 L485.6 195.7 L486.1 195.8 L486.7 195.9 L487.2 196.1 L487.8 196.2 L488.4 196.3 L488.9 196.4 L489.5 196.5 L490.1 196.6 L490.7 196.7 L491.3 196.8 L492 196.9 L492.6 196.9 L493.2 197 L493.9 197.1 L494.5 197.1 L495.1 197.1 L495.8 197.2 L496.4 197.2 L497 197.2 L497.7 197.2 L498.3 197.2 L498.9 197.1 L499.5 197.1 L500.1 197.1 L500.7 197 L501.2 196.9 L501.8 196.9 L502.3 196.8 L502.9 196.7 L503.4 196.6 L504 196.5 L504.6 196.4 L505.1 196.2 L505.7 196.1 L506.3 195.9 L506.8 195.8 L507.4 195.6 L508 195.4 L508.5 195.2 L509 195 L509.6 194.8 L510.1 194.5 L510.6 194.3 L511.1 194 L511.6 193.7 L512 193.5 L512.5 193.2 L513 192.9 L513.4 192.6 L513.8 192.3 L514.2 192 L514.6 191.7 L515 191.4 L515.4 191.1 L515.8 190.8 L516.2 190.5 L516.5 190.1 L516.9 189.8 L517.2 189.5 L517.5 189.1 L517.8 188.8 L518.1 188.4 L518.4 188.1 L518.7 187.8 L518.9 187.5 L519.2 187.1 L519.4 186.8 L519.7 186.5 L519.9 186.2 L520.1 185.9 L520.3 185.6 L520.5 185.3 L520.7 185 L520.9 184.7 L521.1 184.3 L521.2 184.1 L521.4 183.8 L521.5 183.6 L521.6 183.4 L524 184.8 L523.9 184.9 L523.8 185.2 L523.7 185.4 L523.5 185.7 L523.3 186.1 L523.1 186.4 L522.9 186.8 L522.6 187.2 L522.4 187.5 L522.2 187.8 L521.9 188.2 L521.7 188.5 L521.4 188.9 L521.1 189.2 L520.8 189.6 L520.5 189.9 L520.2 190.3 L519.9 190.6 L519.6 191 L519.2 191.4 L518.9 191.8 L518.5 192.1 L518.1 192.5 L517.6 192.9 L517.2 193.3 L516.8 193.6 L516.3 194 L515.9 194.3 L515.4 194.6 L514.9 195 L514.5 195.3 L513.9 195.6 L513.4 195.9 L512.9 196.2 L512.4 196.5 L511.8 196.8 L511.3 197 L510.7 197.3 L510.1 197.6 L509.5 197.8 L508.9 198 L508.3 198.2 L507.7 198.4 L507 198.6 L506.4 198.8 L505.8 199 L505.2 199.1 L504.6 199.2 L504 199.4 L503.4 199.5 L502.8 199.6 L502.1 199.7 L501.5 199.7 L500.9 199.8 L500.3 199.8 L499.7 199.9 L499 199.9 L498.4 200 L497.7 200 L497 200 L496.4 200 L495.7 200 L495 199.9 L494.3 199.9 L493.7 199.8 L493 199.8 L492.3 199.7 L491.6 199.6 L491 199.6 L490.3 199.5 L489.7 199.4 L489 199.3 L488.4 199.2 L487.8 199 L487.2 198.9 L486.6 198.8 L486.1 198.7 L485.5 198.5 L484.9 198.4 L484.3 198.2 L483.6 198 L483 197.8 L482.3 197.6 L481.7 197.4 L481 197.2 L480.4 197 L479.7 196.8 L479 196.5 L478.4 196.3 L477.7 196 L477.1 195.8 L476.4 195.5 L475.8 195.2 L475.1 194.9 L474.5 194.6 L473.8 194.3 L473.1 194 L472.4 193.7 L471.6 193.3 L470.9 192.9 L470.2 192.6 L469.6 192.2 L469.1 192 L468.7 191.8Z" fill="#d2d2d2" stroke="none"/>
<path class="n" d="M468.7 191.8 L469.1 192 L469.6 192.2 L470.2 192.6 L470.9 192.9 L471.6 193.3 L472.4 193.7 L473.1 194 L473.8 194.3 L474.5 194.6 L475.1 194.9 L475.8 195.2 L476.4 195.5 L477.1 195.8 L477.7 196 L478.4 196.3 L479 196.5 L479.7 196.8 L480.4 197 L481 197.2 L481.7 197.4 L482.3 197.6 L483 197.8 L483.6 198 L484.3 198.2 L484.9 198.4 L485.5 198.5 L486.1 198.7 L486.6 198.8 L487.2 198.9 L487.8 199 L488.4 199.2 L489 199.3 L489.7 199.4 L490.3 199.5 L491 199.6 L491.6 199.6 L492.3 199.7 L493 199.8 L493.7 199.8 L494.3 199.9 L495 199.9 L495.7 200 L496.4 200 L497 200 L497.7 200 L498.4 200 L499 199.9 L499.7 199.9 L500.3 199.8 L500.9 199.8 L501.5 199.7 L502.1 199.7 L502.8 199.6 L503.4 199.5 L504 199.4 L504.6 199.2 L505.2 199.1 L505.8 199 L506.4 198.8 L507 198.6 L507.7 198.4 L508.3 198.2 L508.9 198 L509.5 197.8 L510.1 197.6 L510.7 197.3 L511.3 197 L511.8 196.8 L512.4 196.5 L512.9 196.2 L513.4 195.9 L513.9 195.6 L514.5 195.3 L514.9 195 L515.4 194.6 L515.9 194.3 L516.3 194 L516.8 193.6 L517.2 193.3 L517.6 192.9 L518.1 192.5 L518.5 192.1 L518.9 191.8 L519.2 191.4 L519.6 191 L519.9 190.6 L520.2 190.3 L520.5 189.9 L520.8 189.6 L521.1 189.2 L521.4 188.9 L521.7 188.5 L521.9 188.2 L522.2 187.8 L522.4 187.5 L522.6 187.2 L522.9 186.8 L523.1 186.4 L523.3 186.1 L523.5 185.7 L523.7 185.4 L523.8 185.2 L523.9 184.9 L524 184.8"/>
<path class="k" stroke-width="2.0" stroke-linejoin="round" d="M470 189.3 L470.4 189.5 L470.9 189.8 L471.5 190.1 L472.2 190.4 L472.9 190.8 L473.6 191.1 L474.3 191.5 L475 191.8 L475.6 192.1 L476.2 192.4 L476.9 192.6 L477.5 192.9 L478.1 193.2 L478.8 193.4 L479.4 193.7 L480 193.9 L480.6 194.1 L481.3 194.3 L481.9 194.6 L482.5 194.8 L483.2 195 L483.8 195.2 L484.4 195.3 L485 195.5 L485.6 195.7 L486.1 195.8 L486.7 195.9 L487.2 196.1 L487.8 196.2 L488.4 196.3 L488.9 196.4 L489.5 196.5 L490.1 196.6 L490.7 196.7 L491.3 196.8 L492 196.9 L492.6 196.9 L493.2 197 L493.9 197.1 L494.5 197.1 L495.1 197.1 L495.8 197.2 L496.4 197.2 L497 197.2 L497.7 197.2 L498.3 197.2 L498.9 197.1 L499.5 197.1 L500.1 197.1 L500.7 197 L501.2 196.9 L501.8 196.9 L502.3 196.8 L502.9 196.7 L503.4 196.6 L504 196.5 L504.6 196.4 L505.1 196.2 L505.7 196.1 L506.3 195.9 L506.8 195.8 L507.4 195.6 L508 195.4 L508.5 195.2 L509 195 L509.6 194.8 L510.1 194.5 L510.6 194.3 L511.1 194 L511.6 193.7 L512 193.5 L512.5 193.2 L513 192.9 L513.4 192.6 L513.8 192.3 L514.2 192 L514.6 191.7 L515 191.4 L515.4 191.1 L515.8 190.8 L516.2 190.5 L516.5 190.1 L516.9 189.8 L517.2 189.5 L517.5 189.1 L517.8 188.8 L518.1 188.4 L518.4 188.1 L518.7 187.8 L518.9 187.5 L519.2 187.1 L519.4 186.8 L519.7 186.5 L519.9 186.2 L520.1 185.9 L520.3 185.6 L520.5 185.3 L520.7 185 L520.9 184.7 L521.1 184.3 L521.2 184.1 L521.4 183.8 L521.5 183.6 L521.6 183.4"/>
<path class="k" d="M468 211.3C469.3 211.2 473.3 211.1 476 210.9C478.7 210.7 481.3 210.3 484 209.9C486.7 209.5 489.3 209 492 208.3C494.7 207.7 497.7 206.8 500 206C502.3 205.2 504.2 204.5 506 203.6C507.8 202.7 509.5 201.7 511 200.8C512.5 199.9 513.8 199 515 198.2C516.2 197.4 517.1 196.7 518 196C518.9 195.3 520.2 194.2 520.6 193.8"/>
<path class="t" d="M471.4 209.2 L472.6 209.1 L473.7 209.1 L474.8 209 L475.8 208.9 L476.8 208.8 L477.8 208.7 L478.8 208.6 L479.8 208.5 L480.7 208.4 L481.7 208.2 L482.7 208.1 L483.7 207.9 L484.7 207.8 L485.6 207.6 L486.6 207.4 L487.6 207.2 L488.6 207 L489.6 206.8 L490.5 206.6 L491.5 206.4 L492.5 206.1 L493.5 205.8 L494.6 205.6 L495.6 205.3 L496.6 205 L497.5 204.7 L498.5 204.4 L499.4 204.1 L500.2 203.8 L501 203.5 L501.7 203.3 L502.4 203 L503.1 202.7 L503.8 202.4 L504.5 202.1 L505.1 201.8 L505.8 201.5 L506.4 201.2 L507 200.8 L507.6 200.5 L508.2 200.1 L508.8 199.8 L509.4 199.4 L510 199.1 L510.5 198.8 L511 198.4 L511.5 198.1 L512 197.8 L512.5 197.5 L513 197.2 L513.4 196.9 L513.9 196.6 L514.3 196.3 L514.7 196 L515 195.7 L515.4 195.5 L515.7 195.2 L516.1 194.9 L516.4 194.7 L516.8 194.4 L517.1 194.2 L517.5 193.9 L517.8 193.6 L518.2 193.2"/>
<path class="k2" stroke-linejoin="round" d="M521.6 183.4L524.3 184C523.8 186.2 523 188 521.9 189.6C521.2 190.8 520.4 191.9 519.5 192.9L520.6 193.8"/>
<path class="k" d="M488.4 177V216M557.5 177V216.6M488.4 216.4H557.5"/>
<path class="n" d="M488.4 214.4H557.5"/>
<path class="t" d="M520.5 206.5H557.5M520.5 206.5L528.4 214L536.4 206.5"/>
<text class="d" x="534" y="204.3" font-size="11" textLength="22" lengthAdjust="spacingAndGlyphs" text-anchor="start">7.000</text>
<path d="M450.1 157.7V156.6Q450.1 155.5 452.2 155.5Q454.3 155.5 454.3 156.6V157.7" fill="#b4b4b4" stroke="#6e6e6e" stroke-width=".7"/>
<path d="M456.9 162.4V161.5Q456.9 160.6 459 160.6Q461.1 160.6 461.1 161.5V162.4" fill="#b4b4b4" stroke="#6e6e6e" stroke-width=".7"/>
<path d="M463.7 166.1V164.7Q463.7 163.2 465.8 163.2Q467.9 163.2 467.9 164.7V166.1" fill="#b4b4b4" stroke="#6e6e6e" stroke-width=".7"/>
<path d="M470.5 169.3V165.8Q470.5 163.8 472.6 163.8Q474.7 163.8 474.7 165.8V169.3" fill="#b4b4b4" stroke="#6e6e6e" stroke-width=".7"/>
<path d="M477.4 171.7V164.8Q477.4 162.8 479.5 162.8Q481.6 162.8 481.6 164.8V171.7" fill="#b4b4b4" stroke="#6e6e6e" stroke-width=".7"/>
<path d="M484.2 173.6V162.2Q484.2 160.2 486.3 160.2Q488.4 160.2 488.4 162.2V173.6" fill="#b4b4b4" stroke="#6e6e6e" stroke-width=".7"/>
<path d="M491 173.6V158.5Q491 156.5 493.1 156.5Q495.2 156.5 495.2 158.5V173.6" fill="#b4b4b4" stroke="#6e6e6e" stroke-width=".7"/>
<path d="M497.8 173.6V154.3Q497.8 152.3 499.9 152.3Q502 152.3 502 154.3V173.6" fill="#b4b4b4" stroke="#6e6e6e" stroke-width=".7"/>
<path d="M504.6 173.6V152Q504.6 150 506.7 150Q508.8 150 508.8 152V173.6" fill="#b4b4b4" stroke="#6e6e6e" stroke-width=".7"/>
<path d="M511.5 173.6V152Q511.5 150 513.6 150Q515.7 150 515.7 152V173.6" fill="#b4b4b4" stroke="#6e6e6e" stroke-width=".7"/>
<path d="M518.3 173.6V152Q518.3 150 520.4 150Q522.5 150 522.5 152V173.6" fill="#b4b4b4" stroke="#6e6e6e" stroke-width=".7"/>
<path d="M525.1 173.6V152Q525.1 150 527.2 150Q529.3 150 529.3 152V173.6" fill="#b4b4b4" stroke="#6e6e6e" stroke-width=".7"/>
<path d="M531.9 173.6V152Q531.9 150 534 150Q536.1 150 536.1 152V173.6" fill="#b4b4b4" stroke="#6e6e6e" stroke-width=".7"/>
<path d="M538.7 173.6V152Q538.7 150 540.8 150Q542.9 150 542.9 152V173.6" fill="#b4b4b4" stroke="#6e6e6e" stroke-width=".7"/>
<path d="M545.6 173.6V152Q545.6 150 547.7 150Q549.8 150 549.8 152V173.6" fill="#b4b4b4" stroke="#6e6e6e" stroke-width=".7"/>
<path d="M552.4 173.6V152Q552.4 150 554.5 150Q556.6 150 556.6 152V173.6" fill="#b4b4b4" stroke="#6e6e6e" stroke-width=".7"/>
<path d="M559.2 173.6V152Q559.2 150 561.3 150Q563.4 150 563.4 152V173.6" fill="#b4b4b4" stroke="#6e6e6e" stroke-width=".7"/>
<path d="M566 173.6V152Q566 150 568.1 150Q570.2 150 570.2 152V173.6" fill="#b4b4b4" stroke="#6e6e6e" stroke-width=".7"/>
<path d="M572.8 173.6V152Q572.8 150 574.9 150Q577 150 577 152V173.6" fill="#b4b4b4" stroke="#6e6e6e" stroke-width=".7"/>
<path d="M579.7 173.6V152Q579.7 150 581.8 150Q583.9 150 583.9 152V173.6" fill="#b4b4b4" stroke="#6e6e6e" stroke-width=".7"/>
<path class="g" stroke="#999" d="M513 149.8L595.5 104.5L612.5 113.8"/>
<path d="M449.7 145.2 L449.9 145.5 L450.1 145.9 L450.3 146.3 L450.6 146.8 L450.9 147.3 L451.2 147.8 L451.5 148.3 L451.8 148.8 L452.1 149.2 L452.4 149.6 L452.7 150 L453.1 150.4 L453.4 150.8 L453.8 151.2 L454.1 151.6 L454.5 152 L454.9 152.4 L455.3 152.8 L455.7 153.1 L456.1 153.5 L456.6 153.9 L457 154.2 L457.5 154.6 L458 154.9 L458.5 155.2 L459 155.6 L459.5 155.9 L460.1 156.2 L460.6 156.5 L461.2 156.8 L461.7 157 L462.3 157.3 L462.9 157.5 L463.4 157.8 L464 158 L464.6 158.2 L465.2 158.4 L465.8 158.5 L466.4 158.7 L467 158.8 L467.6 158.9 L468.2 159 L468.9 159.1 L469.5 159.1 L470.1 159.2 L470.7 159.2 L471.4 159.2 L472 159.2 L472.6 159.2 L473.3 159.2 L473.9 159.1 L474.5 159.1 L475.1 159 L475.8 158.9 L476.4 158.8 L477 158.7 L477.6 158.6 L478.2 158.4 L478.8 158.3 L479.4 158.1 L479.9 157.9 L480.5 157.7 L481.1 157.5 L481.7 157.3 L482.3 157.1 L482.9 156.8 L483.5 156.6 L484.1 156.3 L484.8 156 L485.4 155.7 L486 155.4 L486.6 155.1 L487.2 154.8 L487.7 154.5 L488.2 154.2 L488.8 153.9 L489.3 153.6 L489.9 153.3 L490.6 152.9 L491.4 152.4 L492.2 151.9 L493 151.4 L493.8 150.9 L494.8 150.3 L495.8 149.7 L497 149 L498.4 148.2 L500 147.2 L502 146.1 L504.3 144.8 L506.8 143.4 L509.5 141.9 L512.2 140.4 L514.9 138.9 L517.6 137.4 L520 136 L522.2 134.7 L524.3 133.5 L526.4 132.3 L528.4 131.1 L530.4 129.9 L532.5 128.7 L534.7 127.4 L537.1 126 L539.6 124.5 L542.1 123 L544.7 121.5 L547.4 119.9 L550.2 118.2 L553.3 116.5 L556.5 114.6 L560 112.6 L564.1 110.3 L568.8 107.6 L573.9 104.8 L579.2 101.9 L584.2 99.1 L588.8 96.5 L592.7 94.4 L595.5 92.8 L597 95.4 L594.1 97 L590.3 99.1 L585.7 101.7 L580.6 104.5 L575.4 107.4 L570.3 110.3 L565.5 112.9 L561.5 115.2 L558 117.2 L554.8 119.1 L551.8 120.8 L548.9 122.5 L546.2 124.1 L543.7 125.6 L541.1 127.1 L538.6 128.6 L536.2 130 L534 131.3 L531.9 132.5 L529.9 133.7 L527.9 134.9 L525.9 136.1 L523.7 137.3 L521.5 138.6 L519 140 L516.4 141.5 L513.7 143 L510.9 144.5 L508.3 146 L505.7 147.4 L503.4 148.7 L501.5 149.8 L499.9 150.7 L498.5 151.6 L497.3 152.3 L496.3 152.9 L495.4 153.4 L494.6 154 L493.8 154.5 L492.9 155 L492.1 155.4 L491.5 155.9 L490.8 156.2 L490.2 156.5 L489.7 156.9 L489.1 157.2 L488.6 157.5 L488 157.8 L487.3 158.1 L486.7 158.4 L486 158.7 L485.4 159 L484.7 159.3 L484.1 159.6 L483.4 159.9 L482.8 160.1 L482.1 160.3 L481.5 160.6 L480.9 160.8 L480.2 161 L479.6 161.2 L478.9 161.3 L478.3 161.5 L477.6 161.6 L476.9 161.8 L476.2 161.9 L475.5 162 L474.8 162 L474.1 162.1 L473.4 162.2 L472.7 162.2 L472 162.2 L471.3 162.2 L470.7 162.2 L470 162.2 L469.3 162.1 L468.6 162.1 L467.8 162 L467.1 161.9 L466.4 161.7 L465.7 161.6 L465 161.4 L464.4 161.2 L463.7 161 L463 160.8 L462.4 160.6 L461.7 160.3 L461.1 160.1 L460.5 159.8 L459.8 159.5 L459.2 159.1 L458.6 158.8 L458 158.5 L457.4 158.1 L456.9 157.7 L456.3 157.4 L455.8 157 L455.2 156.6 L454.7 156.2 L454.2 155.8 L453.7 155.4 L453.3 155 L452.8 154.6 L452.4 154.1 L452 153.7 L451.6 153.3 L451.2 152.8 L450.8 152.4 L450.4 151.9 L450 151.5 L449.7 151 L449.3 150.5 L449 150 L448.6 149.4 L448.3 148.8 L448 148.3 L447.7 147.7 L447.4 147.3 L447.2 146.9 L447.1 146.7Z" fill="#fff" stroke="none"/>
<path d="M449.7 145.2 L449.9 145.5 L450.1 145.9 L450.3 146.3 L450.6 146.8 L450.9 147.3 L451.2 147.8 L451.5 148.3 L451.8 148.8 L452.1 149.2 L452.4 149.6 L452.7 150 L453.1 150.4 L453.4 150.8 L453.8 151.2 L454.1 151.6 L454.5 152 L454.9 152.4 L455.3 152.8 L455.7 153.1 L456.1 153.5 L456.6 153.9 L457 154.2 L457.5 154.6 L458 154.9 L458.5 155.2 L459 155.6 L459.5 155.9 L460.1 156.2 L460.6 156.5 L461.2 156.8 L461.7 157 L462.3 157.3 L462.9 157.5 L463.4 157.8 L464 158 L464.6 158.2 L465.2 158.4 L465.8 158.5 L466.4 158.7 L467 158.8 L467.6 158.9 L468.2 159 L468.9 159.1 L469.5 159.1 L470.1 159.2 L470.7 159.2 L471.4 159.2 L472 159.2 L472.6 159.2 L473.3 159.2 L473.9 159.1 L474.5 159.1 L475.1 159 L475.8 158.9 L476.4 158.8 L477 158.7 L477.6 158.6 L478.2 158.4 L478.8 158.3 L479.4 158.1 L479.9 157.9 L480.5 157.7 L481.1 157.5 L481.7 157.3 L482.3 157.1 L482.9 156.8 L483.5 156.6 L484.1 156.3 L484.8 156 L485.4 155.7 L486 155.4 L486.6 155.1 L487.2 154.8 L487.7 154.5 L488.2 154.2 L488.8 153.9 L489.3 153.6 L489.9 153.3 L490.6 152.9 L491.4 152.4 L492.2 151.9 L493 151.4 L493.8 150.9 L494.8 150.3 L495.8 149.7 L497 149 L498.4 148.2 L500 147.2 L501.5 149.8 L499.9 150.7 L498.5 151.6 L497.3 152.3 L496.3 152.9 L495.4 153.4 L494.6 154 L493.8 154.5 L492.9 155 L492.1 155.4 L491.5 155.9 L490.8 156.2 L490.2 156.5 L489.7 156.9 L489.1 157.2 L488.6 157.5 L488 157.8 L487.3 158.1 L486.7 158.4 L486 158.7 L485.4 159 L484.7 159.3 L484.1 159.6 L483.4 159.9 L482.8 160.1 L482.1 160.3 L481.5 160.6 L480.9 160.8 L480.2 161 L479.6 161.2 L478.9 161.3 L478.3 161.5 L477.6 161.6 L476.9 161.8 L476.2 161.9 L475.5 162 L474.8 162 L474.1 162.1 L473.4 162.2 L472.7 162.2 L472 162.2 L471.3 162.2 L470.7 162.2 L470 162.2 L469.3 162.1 L468.6 162.1 L467.8 162 L467.1 161.9 L466.4 161.7 L465.7 161.6 L465 161.4 L464.4 161.2 L463.7 161 L463 160.8 L462.4 160.6 L461.7 160.3 L461.1 160.1 L460.5 159.8 L459.8 159.5 L459.2 159.1 L458.6 158.8 L458 158.5 L457.4 158.1 L456.9 157.7 L456.3 157.4 L455.8 157 L455.2 156.6 L454.7 156.2 L454.2 155.8 L453.7 155.4 L453.3 155 L452.8 154.6 L452.4 154.1 L452 153.7 L451.6 153.3 L451.2 152.8 L450.8 152.4 L450.4 151.9 L450 151.5 L449.7 151 L449.3 150.5 L449 150 L448.6 149.4 L448.3 148.8 L448 148.3 L447.7 147.7 L447.4 147.3 L447.2 146.9 L447.1 146.7Z" fill="#d2d2d2" stroke="none"/>
<path class="n" d="M447.1 146.7 L447.2 146.9 L447.4 147.3 L447.7 147.7 L448 148.3 L448.3 148.8 L448.6 149.4 L449 150 L449.3 150.5 L449.7 151 L450 151.5 L450.4 151.9 L450.8 152.4 L451.2 152.8 L451.6 153.3 L452 153.7 L452.4 154.1 L452.8 154.6 L453.3 155 L453.7 155.4 L454.2 155.8 L454.7 156.2 L455.2 156.6 L455.8 157 L456.3 157.4 L456.9 157.7 L457.4 158.1 L458 158.5 L458.6 158.8 L459.2 159.1 L459.8 159.5 L460.5 159.8 L461.1 160.1 L461.7 160.3 L462.4 160.6 L463 160.8 L463.7 161 L464.4 161.2 L465 161.4 L465.7 161.6 L466.4 161.7 L467.1 161.9 L467.8 162 L468.6 162.1 L469.3 162.1 L470 162.2 L470.7 162.2 L471.3 162.2 L472 162.2 L472.7 162.2 L473.4 162.2 L474.1 162.1 L474.8 162 L475.5 162 L476.2 161.9 L476.9 161.8 L477.6 161.6 L478.3 161.5 L478.9 161.3 L479.6 161.2 L480.2 161 L480.9 160.8 L481.5 160.6 L482.1 160.3 L482.8 160.1 L483.4 159.9 L484.1 159.6 L484.7 159.3 L485.4 159 L486 158.7 L486.7 158.4 L487.3 158.1 L488 157.8 L488.6 157.5 L489.1 157.2 L489.7 156.9 L490.2 156.5 L490.8 156.2 L491.5 155.9 L492.1 155.4 L492.9 155 L493.8 154.5 L494.6 154 L495.4 153.4 L496.3 152.9 L497.3 152.3 L498.5 151.6 L499.9 150.7 L501.5 149.8 L503.4 148.7 L505.7 147.4 L508.3 146 L510.9 144.5 L513.7 143 L516.4 141.5 L519 140 L521.5 138.6 L523.7 137.3 L525.9 136.1 L527.9 134.9 L529.9 133.7 L531.9 132.5 L534 131.3 L536.2 130 L538.6 128.6 L541.1 127.1 L543.7 125.6 L546.2 124.1 L548.9 122.5 L551.8 120.8 L554.8 119.1 L558 117.2 L561.5 115.2 L565.5 112.9 L570.3 110.3 L575.4 107.4 L580.6 104.5 L585.7 101.7 L590.3 99.1 L594.1 97 L597 95.4"/>
<path class="k" stroke-width="2.0" stroke-linejoin="round" d="M449.7 145.2 L449.9 145.5 L450.1 145.9 L450.3 146.3 L450.6 146.8 L450.9 147.3 L451.2 147.8 L451.5 148.3 L451.8 148.8 L452.1 149.2 L452.4 149.6 L452.7 150 L453.1 150.4 L453.4 150.8 L453.8 151.2 L454.1 151.6 L454.5 152 L454.9 152.4 L455.3 152.8 L455.7 153.1 L456.1 153.5 L456.6 153.9 L457 154.2 L457.5 154.6 L458 154.9 L458.5 155.2 L459 155.6 L459.5 155.9 L460.1 156.2 L460.6 156.5 L461.2 156.8 L461.7 157 L462.3 157.3 L462.9 157.5 L463.4 157.8 L464 158 L464.6 158.2 L465.2 158.4 L465.8 158.5 L466.4 158.7 L467 158.8 L467.6 158.9 L468.2 159 L468.9 159.1 L469.5 159.1 L470.1 159.2 L470.7 159.2 L471.4 159.2 L472 159.2 L472.6 159.2 L473.3 159.2 L473.9 159.1 L474.5 159.1 L475.1 159 L475.8 158.9 L476.4 158.8 L477 158.7 L477.6 158.6 L478.2 158.4 L478.8 158.3 L479.4 158.1 L479.9 157.9 L480.5 157.7 L481.1 157.5 L481.7 157.3 L482.3 157.1 L482.9 156.8 L483.5 156.6 L484.1 156.3 L484.8 156 L485.4 155.7 L486 155.4 L486.6 155.1 L487.2 154.8 L487.7 154.5 L488.2 154.2 L488.8 153.9 L489.3 153.6 L489.9 153.3 L490.6 152.9 L491.4 152.4 L492.2 151.9 L493 151.4 L493.8 150.9 L494.8 150.3 L495.8 149.7 L497 149 L498.4 148.2 L500 147.2 L502 146.1 L504.3 144.8 L506.8 143.4 L509.5 141.9 L512.2 140.4 L514.9 138.9 L517.6 137.4 L520 136 L522.2 134.7 L524.3 133.5 L526.4 132.3 L528.4 131.1 L530.4 129.9 L532.5 128.7 L534.7 127.4 L537.1 126 L539.6 124.5 L542.1 123 L544.7 121.5 L547.4 119.9 L550.2 118.2 L553.3 116.5 L556.5 114.6 L560 112.6 L564.1 110.3 L568.8 107.6 L573.9 104.8 L579.2 101.9 L584.2 99.1 L588.8 96.5 L592.7 94.4 L595.5 92.8"/>
<path class="t" d="M483.4 161.6 L484 161.3 L484.7 161.1 L485.4 160.8 L486 160.5 L486.7 160.2 L487.4 159.8 L488 159.5 L488.7 159.2 L489.3 158.9 L489.9 158.6 L490.5 158.3 L491 157.9 L491.6 157.6 L492.3 157.2 L493 156.8 L493.8 156.4 L494.6 155.8 L495.4 155.3 L496.3 154.8 L497.2 154.2 L498.2 153.6 L499.3 152.9 L500.7 152.1 L502.3 151.2 L504.2 150.1 L506.5 148.8 L509 147.4 L511.7 145.9 L514.4 144.4 L517.2 142.9 L519.8 141.4 L522.3 140 L524.5 138.7 L526.7 137.5 L528.7 136.3 L530.7 135.1 L532.7 133.9 L534.8 132.7 L537 131.4 L539.4 130 L541.9 128.5 L544.5 127 L547.1 125.5 L549.7 123.9 L552.6 122.2 L555.6 120.5 L558.8 118.6 L562.3 116.6 L566.3 114.3 L571.1 111.7 L576.2 108.8 L581.4 105.9 L586.5 103.1 L591.1 100.5 L594.9 98.4 L597.7 96.8"/>
<path class="k" stroke-width="2.0" d="M595.5 92.8L631 112.6"/>
<path class="n" d="M595.5 95.6L628 113.6"/>
<path class="t" d="M595.5 97.9L624 113.7"/>
<path class="k" d="M449.2 155.8C449.4 156.2 450 157.6 450.6 158.4C451.2 159.2 451.5 159.8 452.6 160.7C453.7 161.6 455.8 162.9 457.4 164C459 165.1 460.7 166 462.5 167C464.3 168 466.6 169.1 468 169.8C469.4 170.5 469.2 170.6 471 171.3C472.8 172 476.6 173.3 478.8 174.1C481 174.8 482.4 175.4 484 175.8C485.6 176.2 486.7 176.6 488.4 176.8C490.1 177 493.1 177.1 494 177.2H557.4"/>
<path class="t" d="M452.2 157.3 L452.5 157.6 L452.6 157.8 L452.8 158 L452.9 158.2 L453.1 158.4 L453.3 158.6 L453.5 158.9 L453.9 159.2 L454.3 159.5 L454.8 159.8 L455.3 160.2 L455.9 160.7 L456.6 161.1 L457.2 161.5 L457.8 161.9 L458.5 162.3 L459.1 162.7 L459.7 163.1 L460.3 163.4 L460.9 163.8 L461.5 164.2 L462.2 164.5 L462.8 164.9 L463.5 165.2 L464.1 165.6 L464.8 166 L465.5 166.3 L466.3 166.7 L467 167.1 L467.7 167.4 L468.3 167.7 L468.9 168 L469.4 168.3 L469.8 168.5 L470.1 168.7 L470.3 168.8 L470.5 168.9 L470.8 169 L471.2 169.2 L471.7 169.4 L472.5 169.7 L473.4 170.1 L474.4 170.4 L475.4 170.8 L476.5 171.2 L477.6 171.6 L478.6 171.9 L479.5 172.2 L480.2 172.5 L481 172.7 L481.6 173 L482.2 173.2 L482.8 173.4 L483.4 173.5 L484 173.7 L484.5 173.9 L485.1 174 L485.6 174.2 L486.2 174.3 L486.6 174.4 L487.1 174.5 L487.6 174.6 L488.1 174.7 L488.7 174.8"/>
<path class="k2" stroke-linejoin="round" d="M449.7 145.2L446.3 145.3C446.8 147.6 447.6 149.6 448.7 151.5C449.4 152.7 450.2 153.8 451.1 154.9L449.2 155.8"/>
<path d="M492 177.6v2.9h2.8v-2.9M498.8 177.6v2.9h2.8v-2.9M505.6 177.6v2.9h2.8v-2.9M512.5 177.6v2.9h2.8v-2.9M519.3 177.6v2.9h2.8v-2.9M526.1 177.6v2.9h2.8v-2.9M532.9 177.6v2.9h2.8v-2.9M539.7 177.6v2.9h2.8v-2.9M546.6 177.6v2.9h2.8v-2.9M553.4 177.6v2.9h2.8v-2.9" fill="none" stroke="#a8a8a8" stroke-width=".5"/>
<rect x="317" y="167" width="152" height="6" fill="#fff"/>
<path d="M320 168.3h6.6v3.4h-6.6zM460.6 168.3h6.6v3.4h-6.6z" fill="#c8c8c8" stroke="#999" stroke-width=".5"/>
<path stroke="#bcbcbc" stroke-width="1.2" d="M326.6 170.8H460.6"/>
<path class="k2" d="M315.5 166.5H468"/>
<path stroke="#4a4a4a" stroke-width="1.1" d="M316 173.6H470"/>
<path class="k2" stroke-width="1.2" stroke-linejoin="round" fill="#fff" d="M317.9 173.4C317.6 171.6 316.6 170 315 168.7C313.6 167.4 312 165.8 310.6 164.5L311.4 163.8C314 165.2 317 166.3 321 166.5"/>
<path class="k2" stroke-width="1.2" stroke-linejoin="round" fill="#fff" d="M469.3 173.4C469.5 171.4 470.4 170 471.8 168.6C473.2 167.2 474.6 165.8 475.9 164.7L475.2 163.9C472.4 165.2 469.6 166.3 465.5 166.5"/>
<path class="k2" d="M315.2 174V190.3M471 173.6V190.2"/>
<path d="M525.5 145.2 L525.7 145.5 L525.9 145.9 L526.1 146.3 L526.4 146.8 L526.7 147.3 L527 147.8 L527.3 148.3 L527.6 148.8 L527.9 149.2 L528.2 149.6 L528.5 150 L528.9 150.4 L529.2 150.8 L529.6 151.2 L529.9 151.6 L530.3 152 L530.7 152.4 L531.1 152.8 L531.5 153.1 L531.9 153.5 L532.4 153.9 L532.8 154.2 L533.3 154.6 L533.8 154.9 L534.3 155.2 L534.8 155.6 L535.3 155.9 L535.9 156.2 L536.4 156.5 L537 156.8 L537.5 157 L538.1 157.3 L538.7 157.5 L539.2 157.8 L539.8 158 L540.4 158.2 L541 158.4 L541.6 158.5 L542.2 158.7 L542.8 158.8 L543.4 158.9 L544 159 L544.7 159.1 L545.3 159.1 L545.9 159.2 L546.5 159.2 L547.2 159.2 L547.8 159.2 L548.4 159.2 L549.1 159.2 L549.7 159.1 L550.3 159.1 L550.9 159 L551.6 158.9 L552.2 158.8 L552.8 158.7 L553.4 158.6 L554 158.4 L554.6 158.3 L555.2 158.1 L555.7 157.9 L556.3 157.7 L556.9 157.5 L557.5 157.3 L558.1 157.1 L558.7 156.8 L559.3 156.6 L559.9 156.3 L560.6 156 L561.2 155.7 L561.8 155.4 L562.4 155.1 L563 154.8 L563.5 154.5 L564 154.2 L564.6 153.9 L565.1 153.6 L565.7 153.3 L566.4 152.9 L567.2 152.4 L568 151.9 L568.8 151.4 L569.7 150.9 L570.6 150.3 L571.6 149.7 L572.8 149 L574.2 148.2 L575.8 147.2 L577.7 146.1 L579.9 144.8 L582.3 143.4 L584.9 141.9 L587.5 140.3 L590.1 138.8 L592.6 137.4 L595 136 L597.2 134.8 L599.3 133.6 L601.3 132.4 L603.4 131.3 L605.4 130.2 L607.5 129.1 L609.7 127.9 L612 126.6 L614.6 125.2 L617.5 123.6 L620.6 121.9 L623.7 120.2 L626.7 118.6 L629.4 117.1 L631.6 115.9 L633.3 115 L633.3 115 L634.6 115.7 L636.2 116.6 L638.2 117.6 L640.4 118.8 L642.8 120 L645.2 121.3 L647.6 122.6 L650 123.9 L652.4 125.2 L654.9 126.5 L657.5 127.9 L660.2 129.3 L662.8 130.8 L665.4 132.1 L667.8 133.4 L670 134.6 L672 135.7 L673.9 136.7 L675.6 137.6 L677.2 138.5 L678.8 139.4 L680.4 140.2 L681.9 141.1 L683.6 142 L685.3 143 L687.1 143.9 L689 144.9 L690.8 145.9 L692.5 146.9 L694.2 147.8 L695.7 148.7 L697.1 149.4 L698.3 150 L699.3 150.6 L700.2 151.1 L701 151.5 L701.7 151.9 L702.4 152.2 L703.2 152.6 L704 153 L704.9 153.4 L705.7 153.8 L706.6 154.2 L707.5 154.6 L708.3 155 L709.1 155.3 L709.9 155.7 L710.7 156 L711.4 156.3 L712.1 156.6 L712.8 156.9 L713.4 157.1 L714.1 157.4 L714.7 157.6 L715.3 157.8 L716 158 L716.7 158.2 L717.4 158.3 L718.1 158.5 L718.8 158.6 L719.5 158.7 L720.2 158.8 L720.9 158.9 L721.6 158.9 L722.2 158.9 L722.9 158.9 L723.5 158.9 L724.1 158.8 L724.7 158.7 L725.3 158.6 L725.9 158.5 L726.5 158.3 L727.1 158.1 L727.7 157.9 L728.3 157.6 L728.8 157.4 L729.4 157.1 L729.9 156.8 L730.5 156.5 L731 156.2 L731.5 155.9 L732 155.6 L732.4 155.3 L732.9 155 L733.3 154.6 L733.7 154.3 L734.2 153.9 L734.6 153.6 L735 153.2 L735.4 152.9 L735.9 152.5 L736.3 152.1 L736.7 151.7 L737.1 151.3 L737.4 151 L737.8 150.6 L738.1 150.2 L738.5 149.9 L738.8 149.5 L739.1 149.2 L739.3 148.8 L739.6 148.5 L739.9 148.1 L740.2 147.8 L740.5 147.5 L740.8 147.1 L741.1 146.8 L741.5 146.4 L741.7 146.1 L742 145.8 L742.2 145.6 L742.4 145.4 L741.6 155.8 L741.6 155.8 L741.3 156.2 L741 156.6 L740.5 157.2 L740 157.8 L739.5 158.5 L738.9 159.1 L738.4 159.7 L737.8 160.3 L737.2 160.8 L736.6 161.3 L736 161.8 L735.3 162.3 L734.6 162.8 L734 163.3 L733.3 163.7 L732.6 164.2 L731.9 164.7 L731.2 165.1 L730.5 165.6 L729.8 166.1 L729.1 166.5 L728.4 167 L727.7 167.4 L727 167.8 L726.3 168.2 L725.7 168.6 L725 169 L724.4 169.3 L723.8 169.7 L723.1 170 L722.5 170.4 L721.8 170.7 L721.1 171 L720.4 171.4 L719.7 171.7 L718.9 172 L718.2 172.3 L717.5 172.6 L716.8 172.9 L716.1 173.2 L715.4 173.5 L714.8 173.7 L714.1 173.9 L713.5 174.1 L712.9 174.3 L712.3 174.5 L711.6 174.7 L711 174.9 L710.4 175.1 L709.8 175.3 L709.2 175.4 L708.6 175.6 L707.9 175.8 L707.3 175.9 L706.7 176.1 L706 176.2 L705.3 176.3 L704.6 176.5 L703.9 176.6 L703.1 176.7 L702.4 176.8 L701.6 176.9 L700.8 177 L700 177.1 L699.2 177.2 L698.3 177.2 L697.4 177.3 L696.6 177.4 L695.7 177.4 L694.8 177.4 L693.9 177.5 L693 177.5 L692.1 177.5 L691.1 177.5 L690.1 177.5 L689.1 177.5 L688.1 177.5 L687.3 177.5 L686.5 177.5 L686 177.5 L569.8 177.3 L569.4 177.3 L568.8 177.2 L568.1 177.2 L567.3 177.1 L566.5 177 L565.6 177 L564.9 176.9 L564.2 176.8 L563.6 176.7 L563 176.6 L562.5 176.5 L562 176.4 L561.5 176.2 L560.9 176.1 L560.4 176 L559.8 175.8 L559.2 175.6 L558.6 175.5 L558 175.3 L557.4 175.1 L556.8 174.8 L556.1 174.6 L555.4 174.4 L554.6 174.1 L553.7 173.8 L552.7 173.4 L551.7 173.1 L550.6 172.7 L549.5 172.3 L548.5 171.9 L547.6 171.6 L546.8 171.3 L546.2 171.1 L545.8 170.9 L545.4 170.7 L545.2 170.6 L544.9 170.4 L544.6 170.2 L544.3 170 L543.8 169.8 L543.2 169.5 L542.6 169.2 L541.9 168.9 L541.2 168.5 L540.4 168.1 L539.7 167.7 L539 167.4 L538.3 167 L537.6 166.6 L537 166.3 L536.3 165.9 L535.7 165.5 L535.1 165.2 L534.4 164.8 L533.8 164.4 L533.2 164 L532.6 163.6 L531.9 163.2 L531.3 162.7 L530.6 162.3 L530 161.9 L529.4 161.5 L528.9 161.1 L528.4 160.7 L528 160.4 L527.7 160.1 L527.4 159.8 L527.2 159.5 L527 159.2 L526.8 159 L526.6 158.7 L526.4 158.4 L526.2 158.1 L526 157.7 L525.8 157.3 L525.6 157 L525.4 156.6 L525.2 156.3 L525.1 156 L525 155.8Z" fill="#fff"/>
<path d="M525.1 156.7V155.7Q525.1 154.7 527.2 154.7Q529.3 154.7 529.3 155.7V156.7" fill="#b4b4b4" stroke="#6e6e6e" stroke-width=".7"/>
<path d="M531.9 161.7V160.9Q531.9 160.2 534 160.2Q536.1 160.2 536.1 160.9V161.7" fill="#b4b4b4" stroke="#6e6e6e" stroke-width=".7"/>
<path d="M538.7 165.5V164.3Q538.7 163 540.8 163Q542.9 163 542.9 164.3V165.5" fill="#b4b4b4" stroke="#6e6e6e" stroke-width=".7"/>
<path d="M545.6 168.8V165.8Q545.6 163.8 547.7 163.8Q549.8 163.8 549.8 165.8V168.8" fill="#b4b4b4" stroke="#6e6e6e" stroke-width=".7"/>
<path d="M552.4 171.3V165Q552.4 163 554.5 163Q556.6 163 556.6 165V171.3" fill="#b4b4b4" stroke="#6e6e6e" stroke-width=".7"/>
<path d="M559.2 173.4V162.6Q559.2 160.6 561.3 160.6Q563.4 160.6 563.4 162.6V173.4" fill="#b4b4b4" stroke="#6e6e6e" stroke-width=".7"/>
<path d="M566 173.6V158.9Q566 156.9 568.1 156.9Q570.2 156.9 570.2 158.9V173.6" fill="#b4b4b4" stroke="#6e6e6e" stroke-width=".7"/>
<path d="M572.8 173.6V154.8Q572.8 152.8 574.9 152.8Q577 152.8 577 154.8V173.6" fill="#b4b4b4" stroke="#6e6e6e" stroke-width=".7"/>
<path d="M579.7 173.6V152Q579.7 150 581.8 150Q583.9 150 583.9 152V173.6" fill="#b4b4b4" stroke="#6e6e6e" stroke-width=".7"/>
<path d="M586.5 173.6V152Q586.5 150 588.6 150Q590.7 150 590.7 152V173.6" fill="#b4b4b4" stroke="#6e6e6e" stroke-width=".7"/>
<path d="M593.3 173.6V152Q593.3 150 595.4 150Q597.5 150 597.5 152V173.6" fill="#b4b4b4" stroke="#6e6e6e" stroke-width=".7"/>
<path d="M600.1 173.6V152Q600.1 150 602.2 150Q604.3 150 604.3 152V173.6" fill="#b4b4b4" stroke="#6e6e6e" stroke-width=".7"/>
<path d="M606.9 173.6V152Q606.9 150 609 150Q611.1 150 611.1 152V173.6" fill="#b4b4b4" stroke="#6e6e6e" stroke-width=".7"/>
<path d="M613.8 173.6V152Q613.8 150 615.9 150Q618 150 618 152V173.6" fill="#b4b4b4" stroke="#6e6e6e" stroke-width=".7"/>
<path d="M620.6 173.6V152Q620.6 150 622.7 150Q624.8 150 624.8 152V173.6" fill="#b4b4b4" stroke="#6e6e6e" stroke-width=".7"/>
<path d="M627.4 173.6V152Q627.4 150 629.5 150Q631.6 150 631.6 152V173.6" fill="#b4b4b4" stroke="#6e6e6e" stroke-width=".7"/>
<path d="M634.2 173.6V152Q634.2 150 636.3 150Q638.4 150 638.4 152V173.6" fill="#b4b4b4" stroke="#6e6e6e" stroke-width=".7"/>
<path d="M641 173.6V152Q641 150 643.1 150Q645.2 150 645.2 152V173.6" fill="#b4b4b4" stroke="#6e6e6e" stroke-width=".7"/>
<path d="M647.9 173.6V152Q647.9 150 650 150Q652.1 150 652.1 152V173.6" fill="#b4b4b4" stroke="#6e6e6e" stroke-width=".7"/>
<path d="M654.7 173.6V152Q654.7 150 656.8 150Q658.9 150 658.9 152V173.6" fill="#b4b4b4" stroke="#6e6e6e" stroke-width=".7"/>
<path d="M661.5 173.6V152Q661.5 150 663.6 150Q665.7 150 665.7 152V173.6" fill="#b4b4b4" stroke="#6e6e6e" stroke-width=".7"/>
<path d="M668.3 173.6V152Q668.3 150 670.4 150Q672.5 150 672.5 152V173.6" fill="#b4b4b4" stroke="#6e6e6e" stroke-width=".7"/>
<path d="M675.1 173.6V152Q675.1 150 677.2 150Q679.3 150 679.3 152V173.6" fill="#b4b4b4" stroke="#6e6e6e" stroke-width=".7"/>
<path d="M682 173.6V152Q682 150 684.1 150Q686.2 150 686.2 152V173.6" fill="#b4b4b4" stroke="#6e6e6e" stroke-width=".7"/>
<path d="M688.8 173.6V153Q688.8 151 690.9 151Q693 151 693 153V173.6" fill="#b4b4b4" stroke="#6e6e6e" stroke-width=".7"/>
<path d="M695.6 173.6V156.7Q695.6 154.7 697.7 154.7Q699.8 154.7 699.8 156.7V173.6" fill="#b4b4b4" stroke="#6e6e6e" stroke-width=".7"/>
<path d="M702.4 173.6V160.2Q702.4 158.2 704.5 158.2Q706.6 158.2 706.6 160.2V173.6" fill="#b4b4b4" stroke="#6e6e6e" stroke-width=".7"/>
<path d="M709.2 172V163.1Q709.2 161.1 711.3 161.1Q713.4 161.1 713.4 163.1V172" fill="#b4b4b4" stroke="#6e6e6e" stroke-width=".7"/>
<path d="M716.1 169.6V165.1Q716.1 163.1 718.2 163.1Q720.3 163.1 720.3 165.1V169.6" fill="#b4b4b4" stroke="#6e6e6e" stroke-width=".7"/>
<path d="M722.9 166.2V164.7Q722.9 163.3 725 163.3Q727.1 163.3 727.1 164.7V166.2" fill="#b4b4b4" stroke="#6e6e6e" stroke-width=".7"/>
<path class="g" stroke="#999" d="M590.6 150L633.3 126.8L676.9 150"/>
<path d="M525.5 145.2 L525.7 145.5 L525.9 145.9 L526.1 146.3 L526.4 146.8 L526.7 147.3 L527 147.8 L527.3 148.3 L527.6 148.8 L527.9 149.2 L528.2 149.6 L528.5 150 L528.9 150.4 L529.2 150.8 L529.6 151.2 L529.9 151.6 L530.3 152 L530.7 152.4 L531.1 152.8 L531.5 153.1 L531.9 153.5 L532.4 153.9 L532.8 154.2 L533.3 154.6 L533.8 154.9 L534.3 155.2 L534.8 155.6 L535.3 155.9 L535.9 156.2 L536.4 156.5 L537 156.8 L537.5 157 L538.1 157.3 L538.7 157.5 L539.2 157.8 L539.8 158 L540.4 158.2 L541 158.4 L541.6 158.5 L542.2 158.7 L542.8 158.8 L543.4 158.9 L544 159 L544.7 159.1 L545.3 159.1 L545.9 159.2 L546.5 159.2 L547.2 159.2 L547.8 159.2 L548.4 159.2 L549.1 159.2 L549.7 159.1 L550.3 159.1 L550.9 159 L551.6 158.9 L552.2 158.8 L552.8 158.7 L553.4 158.6 L554 158.4 L554.6 158.3 L555.2 158.1 L555.7 157.9 L556.3 157.7 L556.9 157.5 L557.5 157.3 L558.1 157.1 L558.7 156.8 L559.3 156.6 L559.9 156.3 L560.6 156 L561.2 155.7 L561.8 155.4 L562.4 155.1 L563 154.8 L563.5 154.5 L564 154.2 L564.6 153.9 L565.1 153.6 L565.7 153.3 L566.4 152.9 L567.2 152.4 L568 151.9 L568.8 151.4 L569.7 150.9 L570.6 150.3 L571.6 149.7 L572.8 149 L574.2 148.2 L575.8 147.2 L577.7 146.1 L579.9 144.8 L582.3 143.4 L584.9 141.9 L587.5 140.3 L590.1 138.8 L592.6 137.4 L595 136 L597.2 134.8 L599.3 133.6 L601.3 132.4 L603.4 131.3 L605.4 130.2 L607.5 129.1 L609.7 127.9 L612 126.6 L614.6 125.2 L617.5 123.6 L620.6 121.9 L623.7 120.2 L626.7 118.6 L629.4 117.1 L631.6 115.9 L633.3 115 L634.7 117.6 L633.1 118.5 L630.8 119.8 L628.1 121.2 L625.1 122.8 L622 124.5 L619 126.2 L616 127.8 L613.4 129.2 L611.1 130.5 L608.9 131.7 L606.8 132.8 L604.8 134 L602.8 135.1 L600.8 136.2 L598.7 137.4 L596.5 138.6 L594.1 140 L591.6 141.4 L589 142.9 L586.4 144.5 L583.8 145.9 L581.4 147.4 L579.2 148.7 L577.3 149.8 L575.7 150.7 L574.4 151.5 L573.2 152.3 L572.2 152.9 L571.3 153.5 L570.4 154 L569.6 154.5 L568.7 155 L567.9 155.4 L567.3 155.9 L566.6 156.2 L566 156.5 L565.5 156.9 L564.9 157.2 L564.4 157.5 L563.8 157.8 L563.1 158.1 L562.5 158.4 L561.8 158.7 L561.2 159 L560.5 159.3 L559.9 159.6 L559.2 159.9 L558.6 160.1 L557.9 160.3 L557.3 160.6 L556.7 160.8 L556 161 L555.4 161.2 L554.7 161.3 L554.1 161.5 L553.4 161.6 L552.7 161.8 L552 161.9 L551.3 162 L550.6 162 L549.9 162.1 L549.2 162.2 L548.5 162.2 L547.8 162.2 L547.1 162.2 L546.5 162.2 L545.8 162.2 L545.1 162.1 L544.4 162.1 L543.6 162 L542.9 161.9 L542.2 161.7 L541.5 161.6 L540.8 161.4 L540.2 161.2 L539.5 161 L538.8 160.8 L538.2 160.6 L537.5 160.3 L536.9 160.1 L536.3 159.8 L535.6 159.5 L535 159.1 L534.4 158.8 L533.8 158.5 L533.2 158.1 L532.7 157.7 L532.1 157.4 L531.6 157 L531 156.6 L530.5 156.2 L530 155.8 L529.5 155.4 L529.1 155 L528.6 154.6 L528.2 154.1 L527.8 153.7 L527.4 153.3 L527 152.8 L526.6 152.4 L526.2 151.9 L525.8 151.5 L525.5 151 L525.1 150.5 L524.8 150 L524.4 149.4 L524.1 148.8 L523.8 148.3 L523.5 147.7 L523.2 147.3 L523 146.9 L522.9 146.7Z" fill="#fff" stroke="none"/>
<path d="M525.5 145.2 L525.7 145.5 L525.9 145.9 L526.1 146.3 L526.4 146.8 L526.7 147.3 L527 147.8 L527.3 148.3 L527.6 148.8 L527.9 149.2 L528.2 149.6 L528.5 150 L528.9 150.4 L529.2 150.8 L529.6 151.2 L529.9 151.6 L530.3 152 L530.7 152.4 L531.1 152.8 L531.5 153.1 L531.9 153.5 L532.4 153.9 L532.8 154.2 L533.3 154.6 L533.8 154.9 L534.3 155.2 L534.8 155.6 L535.3 155.9 L535.9 156.2 L536.4 156.5 L537 156.8 L537.5 157 L538.1 157.3 L538.7 157.5 L539.2 157.8 L539.8 158 L540.4 158.2 L541 158.4 L541.6 158.5 L542.2 158.7 L542.8 158.8 L543.4 158.9 L544 159 L544.7 159.1 L545.3 159.1 L545.9 159.2 L546.5 159.2 L547.2 159.2 L547.8 159.2 L548.4 159.2 L549.1 159.2 L549.7 159.1 L550.3 159.1 L550.9 159 L551.6 158.9 L552.2 158.8 L552.8 158.7 L553.4 158.6 L554 158.4 L554.6 158.3 L555.2 158.1 L555.7 157.9 L556.3 157.7 L556.9 157.5 L557.5 157.3 L558.1 157.1 L558.7 156.8 L559.3 156.6 L559.9 156.3 L560.6 156 L561.2 155.7 L561.8 155.4 L562.4 155.1 L563 154.8 L563.5 154.5 L564 154.2 L564.6 153.9 L565.1 153.6 L565.7 153.3 L566.4 152.9 L567.2 152.4 L568 151.9 L568.8 151.4 L569.7 150.9 L570.6 150.3 L571.6 149.7 L572.8 149 L574.2 148.2 L575.8 147.2 L577.3 149.8 L575.7 150.7 L574.4 151.5 L573.2 152.3 L572.2 152.9 L571.3 153.5 L570.4 154 L569.6 154.5 L568.7 155 L567.9 155.4 L567.3 155.9 L566.6 156.2 L566 156.5 L565.5 156.9 L564.9 157.2 L564.4 157.5 L563.8 157.8 L563.1 158.1 L562.5 158.4 L561.8 158.7 L561.2 159 L560.5 159.3 L559.9 159.6 L559.2 159.9 L558.6 160.1 L557.9 160.3 L557.3 160.6 L556.7 160.8 L556 161 L555.4 161.2 L554.7 161.3 L554.1 161.5 L553.4 161.6 L552.7 161.8 L552 161.9 L551.3 162 L550.6 162 L549.9 162.1 L549.2 162.2 L548.5 162.2 L547.8 162.2 L547.1 162.2 L546.5 162.2 L545.8 162.2 L545.1 162.1 L544.4 162.1 L543.6 162 L542.9 161.9 L542.2 161.7 L541.5 161.6 L540.8 161.4 L540.2 161.2 L539.5 161 L538.8 160.8 L538.2 160.6 L537.5 160.3 L536.9 160.1 L536.3 159.8 L535.6 159.5 L535 159.1 L534.4 158.8 L533.8 158.5 L533.2 158.1 L532.7 157.7 L532.1 157.4 L531.6 157 L531 156.6 L530.5 156.2 L530 155.8 L529.5 155.4 L529.1 155 L528.6 154.6 L528.2 154.1 L527.8 153.7 L527.4 153.3 L527 152.8 L526.6 152.4 L526.2 151.9 L525.8 151.5 L525.5 151 L525.1 150.5 L524.8 150 L524.4 149.4 L524.1 148.8 L523.8 148.3 L523.5 147.7 L523.2 147.3 L523 146.9 L522.9 146.7Z" fill="#d2d2d2" stroke="none"/>
<path class="n" d="M522.9 146.7 L523 146.9 L523.2 147.3 L523.5 147.7 L523.8 148.3 L524.1 148.8 L524.4 149.4 L524.8 150 L525.1 150.5 L525.5 151 L525.8 151.5 L526.2 151.9 L526.6 152.4 L527 152.8 L527.4 153.3 L527.8 153.7 L528.2 154.1 L528.6 154.6 L529.1 155 L529.5 155.4 L530 155.8 L530.5 156.2 L531 156.6 L531.6 157 L532.1 157.4 L532.7 157.7 L533.2 158.1 L533.8 158.5 L534.4 158.8 L535 159.1 L535.6 159.5 L536.3 159.8 L536.9 160.1 L537.5 160.3 L538.2 160.6 L538.8 160.8 L539.5 161 L540.2 161.2 L540.8 161.4 L541.5 161.6 L542.2 161.7 L542.9 161.9 L543.6 162 L544.4 162.1 L545.1 162.1 L545.8 162.2 L546.5 162.2 L547.1 162.2 L547.8 162.2 L548.5 162.2 L549.2 162.2 L549.9 162.1 L550.6 162 L551.3 162 L552 161.9 L552.7 161.8 L553.4 161.6 L554.1 161.5 L554.7 161.3 L555.4 161.2 L556 161 L556.7 160.8 L557.3 160.6 L557.9 160.3 L558.6 160.1 L559.2 159.9 L559.9 159.6 L560.5 159.3 L561.2 159 L561.8 158.7 L562.5 158.4 L563.1 158.1 L563.8 157.8 L564.4 157.5 L564.9 157.2 L565.5 156.9 L566 156.5 L566.6 156.2 L567.3 155.9 L567.9 155.4 L568.7 155 L569.6 154.5 L570.4 154 L571.3 153.5 L572.2 152.9 L573.2 152.3 L574.4 151.5 L575.7 150.7 L577.3 149.8 L579.2 148.7 L581.4 147.4 L583.8 145.9 L586.4 144.5 L589 142.9 L591.6 141.4 L594.1 140 L596.5 138.6 L598.7 137.4 L600.8 136.2 L602.8 135.1 L604.8 134 L606.8 132.8 L608.9 131.7 L611.1 130.5 L613.4 129.2 L616 127.8 L619 126.2 L622 124.5 L625.1 122.8 L628.1 121.2 L630.8 119.8 L633.1 118.5 L634.7 117.6"/>
<path class="k" stroke-width="2.0" stroke-linejoin="round" d="M525.5 145.2 L525.7 145.5 L525.9 145.9 L526.1 146.3 L526.4 146.8 L526.7 147.3 L527 147.8 L527.3 148.3 L527.6 148.8 L527.9 149.2 L528.2 149.6 L528.5 150 L528.9 150.4 L529.2 150.8 L529.6 151.2 L529.9 151.6 L530.3 152 L530.7 152.4 L531.1 152.8 L531.5 153.1 L531.9 153.5 L532.4 153.9 L532.8 154.2 L533.3 154.6 L533.8 154.9 L534.3 155.2 L534.8 155.6 L535.3 155.9 L535.9 156.2 L536.4 156.5 L537 156.8 L537.5 157 L538.1 157.3 L538.7 157.5 L539.2 157.8 L539.8 158 L540.4 158.2 L541 158.4 L541.6 158.5 L542.2 158.7 L542.8 158.8 L543.4 158.9 L544 159 L544.7 159.1 L545.3 159.1 L545.9 159.2 L546.5 159.2 L547.2 159.2 L547.8 159.2 L548.4 159.2 L549.1 159.2 L549.7 159.1 L550.3 159.1 L550.9 159 L551.6 158.9 L552.2 158.8 L552.8 158.7 L553.4 158.6 L554 158.4 L554.6 158.3 L555.2 158.1 L555.7 157.9 L556.3 157.7 L556.9 157.5 L557.5 157.3 L558.1 157.1 L558.7 156.8 L559.3 156.6 L559.9 156.3 L560.6 156 L561.2 155.7 L561.8 155.4 L562.4 155.1 L563 154.8 L563.5 154.5 L564 154.2 L564.6 153.9 L565.1 153.6 L565.7 153.3 L566.4 152.9 L567.2 152.4 L568 151.9 L568.8 151.4 L569.7 150.9 L570.6 150.3 L571.6 149.7 L572.8 149 L574.2 148.2 L575.8 147.2 L577.7 146.1 L579.9 144.8 L582.3 143.4 L584.9 141.9 L587.5 140.3 L590.1 138.8 L592.6 137.4 L595 136 L597.2 134.8 L599.3 133.6 L601.3 132.4 L603.4 131.3 L605.4 130.2 L607.5 129.1 L609.7 127.9 L612 126.6 L614.6 125.2 L617.5 123.6 L620.6 121.9 L623.7 120.2 L626.7 118.6 L629.4 117.1 L631.6 115.9 L633.3 115"/>
<path d="M633.3 115 L634.6 115.7 L636.2 116.6 L638.2 117.6 L640.4 118.8 L642.8 120 L645.2 121.3 L647.6 122.6 L650 123.9 L652.4 125.2 L654.9 126.5 L657.5 127.9 L660.2 129.3 L662.8 130.8 L665.4 132.1 L667.8 133.4 L670 134.6 L672 135.7 L673.9 136.7 L675.6 137.6 L677.2 138.5 L678.8 139.4 L680.4 140.2 L681.9 141.1 L683.6 142 L685.3 143 L687.1 143.9 L689 144.9 L690.8 145.9 L692.5 146.9 L694.2 147.8 L695.7 148.7 L697.1 149.4 L698.3 150 L699.3 150.6 L700.2 151.1 L701 151.5 L701.7 151.9 L702.4 152.2 L703.2 152.6 L704 153 L704.9 153.4 L705.7 153.8 L706.6 154.2 L707.5 154.6 L708.3 155 L709.1 155.3 L709.9 155.7 L710.7 156 L711.4 156.3 L712.1 156.6 L712.8 156.9 L713.4 157.1 L714.1 157.4 L714.7 157.6 L715.3 157.8 L716 158 L716.7 158.2 L717.4 158.3 L718.1 158.5 L718.8 158.6 L719.5 158.7 L720.2 158.8 L720.9 158.9 L721.6 158.9 L722.2 158.9 L722.9 158.9 L723.5 158.9 L724.1 158.8 L724.7 158.7 L725.3 158.6 L725.9 158.5 L726.5 158.3 L727.1 158.1 L727.7 157.9 L728.3 157.6 L728.8 157.4 L729.4 157.1 L729.9 156.8 L730.5 156.5 L731 156.2 L731.5 155.9 L732 155.6 L732.4 155.3 L732.9 155 L733.3 154.6 L733.7 154.3 L734.2 153.9 L734.6 153.6 L735 153.2 L735.4 152.9 L735.9 152.5 L736.3 152.1 L736.7 151.7 L737.1 151.3 L737.4 151 L737.8 150.6 L738.1 150.2 L738.5 149.9 L738.8 149.5 L739.1 149.2 L739.3 148.8 L739.6 148.5 L739.9 148.1 L740.2 147.8 L740.5 147.5 L740.8 147.1 L741.1 146.8 L741.5 146.4 L741.7 146.1 L742 145.8 L742.2 145.6 L742.4 145.4 L744.6 147.4 L744.4 147.6 L744.2 147.9 L743.9 148.1 L743.7 148.5 L743.3 148.8 L743 149.1 L742.7 149.5 L742.5 149.8 L742.2 150.1 L741.9 150.4 L741.7 150.7 L741.4 151.1 L741.1 151.5 L740.7 151.8 L740.4 152.3 L740 152.7 L739.6 153.1 L739.2 153.5 L738.8 153.9 L738.3 154.3 L737.9 154.7 L737.4 155.1 L737 155.5 L736.5 155.9 L736.1 156.3 L735.6 156.6 L735.1 157 L734.7 157.4 L734.2 157.7 L733.6 158.1 L733.1 158.4 L732.5 158.8 L732 159.1 L731.4 159.4 L730.8 159.8 L730.1 160.1 L729.5 160.4 L728.8 160.7 L728.1 160.9 L727.3 161.2 L726.6 161.4 L725.9 161.5 L725.2 161.7 L724.5 161.8 L723.8 161.8 L723 161.9 L722.3 161.9 L721.5 161.9 L720.7 161.9 L719.9 161.8 L719.1 161.7 L718.3 161.6 L717.5 161.4 L716.8 161.3 L716 161.1 L715.2 160.9 L714.5 160.7 L713.7 160.4 L713 160.2 L712.3 159.9 L711.6 159.6 L711 159.4 L710.3 159.1 L709.5 158.8 L708.8 158.4 L707.9 158.1 L707.1 157.7 L706.2 157.3 L705.3 156.9 L704.5 156.5 L703.6 156.1 L702.7 155.7 L701.9 155.3 L701.1 154.9 L700.3 154.5 L699.6 154.1 L698.8 153.7 L697.9 153.2 L696.9 152.7 L695.7 152 L694.3 151.3 L692.8 150.4 L691.1 149.5 L689.3 148.6 L687.5 147.6 L685.7 146.6 L683.9 145.6 L682.2 144.6 L680.5 143.7 L678.9 142.9 L677.4 142 L675.8 141.1 L674.1 140.3 L672.4 139.3 L670.6 138.3 L668.6 137.2 L666.4 136.1 L664 134.8 L661.4 133.4 L658.8 132 L656.1 130.6 L653.5 129.2 L651 127.8 L648.6 126.5 L646.2 125.3 L643.8 124 L641.4 122.7 L639 121.4 L636.8 120.3 L634.8 119.2 L633.2 118.3 L631.9 117.6Z" fill="#fff" stroke="none"/>
<path d="M697.1 149.4 L698.3 150 L699.3 150.6 L700.2 151.1 L701 151.5 L701.7 151.9 L702.4 152.2 L703.2 152.6 L704 153 L704.9 153.4 L705.7 153.8 L706.6 154.2 L707.5 154.6 L708.3 155 L709.1 155.3 L709.9 155.7 L710.7 156 L711.4 156.3 L712.1 156.6 L712.8 156.9 L713.4 157.1 L714.1 157.4 L714.7 157.6 L715.3 157.8 L716 158 L716.7 158.2 L717.4 158.3 L718.1 158.5 L718.8 158.6 L719.5 158.7 L720.2 158.8 L720.9 158.9 L721.6 158.9 L722.2 158.9 L722.9 158.9 L723.5 158.9 L724.1 158.8 L724.7 158.7 L725.3 158.6 L725.9 158.5 L726.5 158.3 L727.1 158.1 L727.7 157.9 L728.3 157.6 L728.8 157.4 L729.4 157.1 L729.9 156.8 L730.5 156.5 L731 156.2 L731.5 155.9 L732 155.6 L732.4 155.3 L732.9 155 L733.3 154.6 L733.7 154.3 L734.2 153.9 L734.6 153.6 L735 153.2 L735.4 152.9 L735.9 152.5 L736.3 152.1 L736.7 151.7 L737.1 151.3 L737.4 151 L737.8 150.6 L738.1 150.2 L738.5 149.9 L738.8 149.5 L739.1 149.2 L739.3 148.8 L739.6 148.5 L739.9 148.1 L740.2 147.8 L740.5 147.5 L740.8 147.1 L741.1 146.8 L741.5 146.4 L741.7 146.1 L742 145.8 L742.2 145.6 L742.4 145.4 L744.6 147.4 L744.4 147.6 L744.2 147.9 L743.9 148.1 L743.7 148.5 L743.3 148.8 L743 149.1 L742.7 149.5 L742.5 149.8 L742.2 150.1 L741.9 150.4 L741.7 150.7 L741.4 151.1 L741.1 151.5 L740.7 151.8 L740.4 152.3 L740 152.7 L739.6 153.1 L739.2 153.5 L738.8 153.9 L738.3 154.3 L737.9 154.7 L737.4 155.1 L737 155.5 L736.5 155.9 L736.1 156.3 L735.6 156.6 L735.1 157 L734.7 157.4 L734.2 157.7 L733.6 158.1 L733.1 158.4 L732.5 158.8 L732 159.1 L731.4 159.4 L730.8 159.8 L730.1 160.1 L729.5 160.4 L728.8 160.7 L728.1 160.9 L727.3 161.2 L726.6 161.4 L725.9 161.5 L725.2 161.7 L724.5 161.8 L723.8 161.8 L723 161.9 L722.3 161.9 L721.5 161.9 L720.7 161.9 L719.9 161.8 L719.1 161.7 L718.3 161.6 L717.5 161.4 L716.8 161.3 L716 161.1 L715.2 160.9 L714.5 160.7 L713.7 160.4 L713 160.2 L712.3 159.9 L711.6 159.6 L711 159.4 L710.3 159.1 L709.5 158.8 L708.8 158.4 L707.9 158.1 L707.1 157.7 L706.2 157.3 L705.3 156.9 L704.5 156.5 L703.6 156.1 L702.7 155.7 L701.9 155.3 L701.1 154.9 L700.3 154.5 L699.6 154.1 L698.8 153.7 L697.9 153.2 L696.9 152.7 L695.7 152Z" fill="#d2d2d2" stroke="none"/>
<path class="n" d="M631.9 117.6 L633.2 118.3 L634.8 119.2 L636.8 120.3 L639 121.4 L641.4 122.7 L643.8 124 L646.2 125.3 L648.6 126.5 L651 127.8 L653.5 129.2 L656.1 130.6 L658.8 132 L661.4 133.4 L664 134.8 L666.4 136.1 L668.6 137.2 L670.6 138.3 L672.4 139.3 L674.1 140.3 L675.8 141.1 L677.4 142 L678.9 142.9 L680.5 143.7 L682.2 144.6 L683.9 145.6 L685.7 146.6 L687.5 147.6 L689.3 148.6 L691.1 149.5 L692.8 150.4 L694.3 151.3 L695.7 152 L696.9 152.7 L697.9 153.2 L698.8 153.7 L699.6 154.1 L700.3 154.5 L701.1 154.9 L701.9 155.3 L702.7 155.7 L703.6 156.1 L704.5 156.5 L705.3 156.9 L706.2 157.3 L707.1 157.7 L707.9 158.1 L708.8 158.4 L709.5 158.8 L710.3 159.1 L711 159.4 L711.6 159.6 L712.3 159.9 L713 160.2 L713.7 160.4 L714.5 160.7 L715.2 160.9 L716 161.1 L716.8 161.3 L717.5 161.4 L718.3 161.6 L719.1 161.7 L719.9 161.8 L720.7 161.9 L721.5 161.9 L722.3 161.9 L723 161.9 L723.8 161.8 L724.5 161.8 L725.2 161.7 L725.9 161.5 L726.6 161.4 L727.3 161.2 L728.1 160.9 L728.8 160.7 L729.5 160.4 L730.1 160.1 L730.8 159.8 L731.4 159.4 L732 159.1 L732.5 158.8 L733.1 158.4 L733.6 158.1 L734.2 157.7 L734.7 157.4 L735.1 157 L735.6 156.6 L736.1 156.3 L736.5 155.9 L737 155.5 L737.4 155.1 L737.9 154.7 L738.3 154.3 L738.8 153.9 L739.2 153.5 L739.6 153.1 L740 152.7 L740.4 152.3 L740.7 151.8 L741.1 151.5 L741.4 151.1 L741.7 150.7 L741.9 150.4 L742.2 150.1 L742.5 149.8 L742.7 149.5 L743 149.1 L743.3 148.8 L743.7 148.5 L743.9 148.1 L744.2 147.9 L744.4 147.6 L744.6 147.4"/>
<path class="k" stroke-width="2.0" stroke-linejoin="round" d="M633.3 115 L634.6 115.7 L636.2 116.6 L638.2 117.6 L640.4 118.8 L642.8 120 L645.2 121.3 L647.6 122.6 L650 123.9 L652.4 125.2 L654.9 126.5 L657.5 127.9 L660.2 129.3 L662.8 130.8 L665.4 132.1 L667.8 133.4 L670 134.6 L672 135.7 L673.9 136.7 L675.6 137.6 L677.2 138.5 L678.8 139.4 L680.4 140.2 L681.9 141.1 L683.6 142 L685.3 143 L687.1 143.9 L689 144.9 L690.8 145.9 L692.5 146.9 L694.2 147.8 L695.7 148.7 L697.1 149.4 L698.3 150 L699.3 150.6 L700.2 151.1 L701 151.5 L701.7 151.9 L702.4 152.2 L703.2 152.6 L704 153 L704.9 153.4 L705.7 153.8 L706.6 154.2 L707.5 154.6 L708.3 155 L709.1 155.3 L709.9 155.7 L710.7 156 L711.4 156.3 L712.1 156.6 L712.8 156.9 L713.4 157.1 L714.1 157.4 L714.7 157.6 L715.3 157.8 L716 158 L716.7 158.2 L717.4 158.3 L718.1 158.5 L718.8 158.6 L719.5 158.7 L720.2 158.8 L720.9 158.9 L721.6 158.9 L722.2 158.9 L722.9 158.9 L723.5 158.9 L724.1 158.8 L724.7 158.7 L725.3 158.6 L725.9 158.5 L726.5 158.3 L727.1 158.1 L727.7 157.9 L728.3 157.6 L728.8 157.4 L729.4 157.1 L729.9 156.8 L730.5 156.5 L731 156.2 L731.5 155.9 L732 155.6 L732.4 155.3 L732.9 155 L733.3 154.6 L733.7 154.3 L734.2 153.9 L734.6 153.6 L735 153.2 L735.4 152.9 L735.9 152.5 L736.3 152.1 L736.7 151.7 L737.1 151.3 L737.4 151 L737.8 150.6 L738.1 150.2 L738.5 149.9 L738.8 149.5 L739.1 149.2 L739.3 148.8 L739.6 148.5 L739.9 148.1 L740.2 147.8 L740.5 147.5 L740.8 147.1 L741.1 146.8 L741.5 146.4 L741.7 146.1 L742 145.8 L742.2 145.6 L742.4 145.4"/>
<path class="t" d="M559.2 161.6 L559.8 161.3 L560.5 161.1 L561.2 160.8 L561.8 160.5 L562.5 160.2 L563.2 159.8 L563.8 159.5 L564.5 159.2 L565.1 158.9 L565.7 158.6 L566.3 158.3 L566.8 157.9 L567.4 157.6 L568.1 157.2 L568.8 156.8 L569.5 156.4 L570.4 155.9 L571.2 155.3 L572.1 154.8 L573 154.3 L574 153.6 L575.2 152.9 L576.5 152.1 L578.1 151.2 L580 150 L582.2 148.7 L584.6 147.3 L587.2 145.8 L589.8 144.3 L592.4 142.8 L594.9 141.3 L597.3 140 L599.5 138.8 L601.5 137.6 L603.6 136.5 L605.6 135.4 L607.6 134.2 L609.7 133.1 L611.9 131.9 L614.2 130.6 L616.8 129.2 L619.7 127.6 L622.8 125.9 L625.9 124.3 L628.9 122.6 L631.6 121.2 L633.8 120 L635.5 119"/>
<path class="t" d="M631.1 119.1 L632.4 119.7 L634.1 120.6 L636 121.7 L638.2 122.8 L640.6 124.1 L643 125.4 L645.5 126.7 L647.8 128 L650.2 129.2 L652.8 130.6 L655.4 132 L658 133.4 L660.7 134.8 L663.2 136.2 L665.6 137.5 L667.8 138.6 L669.8 139.7 L671.7 140.7 L673.4 141.7 L675 142.5 L676.6 143.4 L678.2 144.3 L679.7 145.1 L681.4 146 L683.1 147 L684.9 148 L686.7 149 L688.6 150 L690.3 150.9 L692 151.9 L693.5 152.7 L694.9 153.4 L696.1 154.1 L697.1 154.6 L698 155.1 L698.8 155.5 L699.6 156 L700.4 156.3 L701.1 156.7"/>
<path class="k" d="M525 155.8C525.2 156.2 525.8 157.6 526.4 158.4C527 159.2 527.3 159.8 528.4 160.7C529.5 161.6 531.6 162.9 533.2 164C534.9 165.1 536.5 166 538.3 167C540.1 168 542.4 169.1 543.8 169.8C545.2 170.5 545 170.6 546.8 171.3C548.6 172 552.4 173.3 554.6 174.1C556.8 174.8 558.2 175.4 559.8 175.8C561.4 176.2 562.5 176.6 564.2 176.8C565.9 177.1 568.9 177.2 569.8 177.3"/>
<path class="t" d="M528 157.3 L528.3 157.6 L528.4 157.8 L528.6 158 L528.7 158.2 L528.9 158.4 L529.1 158.6 L529.3 158.9 L529.7 159.2 L530.1 159.5 L530.6 159.8 L531.1 160.2 L531.7 160.7 L532.4 161.1 L533 161.5 L533.6 161.9 L534.3 162.3 L534.9 162.7 L535.5 163.1 L536.1 163.4 L536.7 163.8 L537.3 164.2 L538 164.5 L538.6 164.9 L539.3 165.2 L539.9 165.6 L540.6 166 L541.3 166.3 L542.1 166.7 L542.8 167.1 L543.5 167.4 L544.1 167.7 L544.7 168 L545.2 168.3 L545.6 168.5 L545.9 168.7 L546.1 168.8 L546.3 168.9 L546.6 169 L547 169.2 L547.5 169.4 L548.3 169.7 L549.2 170.1 L550.2 170.4 L551.2 170.8 L552.3 171.2 L553.4 171.6 L554.4 171.9 L555.3 172.2 L556 172.5 L556.8 172.7 L557.4 173 L558 173.2 L558.6 173.4 L559.2 173.5 L559.8 173.7 L560.3 173.9 L560.9 174 L561.4 174.2 L561.9 174.3 L562.4 174.4 L562.9 174.5 L563.4 174.6 L563.9 174.7 L564.5 174.8"/>
<path class="k" d="M569.8 177.4H686"/>
<path class="k" d="M686 177.5C687.2 177.5 690.7 177.6 693 177.5C695.3 177.4 697.8 177.3 700 177.1C702.2 176.9 704.2 176.6 706 176.2C707.8 175.8 709.3 175.4 711 174.9C712.7 174.4 714.3 173.9 716.1 173.2C717.9 172.5 720 171.6 721.8 170.7C723.6 169.8 725.2 168.9 727 167.8C728.8 166.7 730.8 165.4 732.6 164.2C734.4 162.9 736.3 161.7 737.8 160.3C739.3 158.9 741 156.6 741.6 155.8"/>
<path class="t" d="M692.9 175.3 L693.8 175.3 L694.7 175.2 L695.6 175.2 L696.4 175.2 L697.3 175.1 L698.2 175.1 L699 175 L699.8 174.9 L700.6 174.8 L701.3 174.7 L702.1 174.6 L702.8 174.5 L703.5 174.4 L704.2 174.3 L704.9 174.2 L705.6 174 L706.2 173.9 L706.8 173.8 L707.4 173.6 L708 173.5 L708.6 173.3 L709.2 173.1 L709.8 173 L710.4 172.8 L711 172.6 L711.6 172.4 L712.2 172.2 L712.8 172 L713.4 171.8 L714 171.6 L714.7 171.4 L715.3 171.1 L716 170.9 L716.7 170.6 L717.4 170.3 L718.1 170 L718.8 169.7 L719.5 169.4 L720.2 169.1 L720.8 168.7 L721.5 168.4 L722.1 168.1 L722.7 167.7 L723.3 167.4 L723.9 167 L724.6 166.7 L725.2 166.3 L725.9 165.9 L726.5 165.5 L727.2 165.1 L727.9 164.7 L728.6 164.2 L729.3 163.8 L730 163.3 L730.7 162.8 L731.4 162.4 L732 161.9 L732.7 161.5 L733.4 161 L734 160.5 L734.6 160.1 L735.2 159.6 L735.8 159.1 L736.3 158.7"/>
<path class="k2" stroke-linejoin="round" d="M525.5 145.2L522.1 145.3C522.6 147.6 523.4 149.6 524.5 151.5C525.2 152.7 526 153.8 526.9 154.9L525 155.8"/>
<path class="k2" stroke-linejoin="round" d="M742.4 145.4L744.8 146.8C744 149.4 742.8 151.7 741.2 153.8L740.3 154.9L741.6 155.8"/>
<path d="M573.4 177.8v2.9h2.8v-2.9M580.2 177.8v2.9h2.8v-2.9M587 177.8v2.9h2.8v-2.9M593.9 177.8v2.9h2.8v-2.9M600.7 177.8v2.9h2.8v-2.9M607.5 177.8v2.9h2.8v-2.9M614.3 177.8v2.9h2.8v-2.9M621.1 177.8v2.9h2.8v-2.9M628 177.8v2.9h2.8v-2.9M634.8 177.8v2.9h2.8v-2.9M641.6 177.8v2.9h2.8v-2.9M648.4 177.8v2.9h2.8v-2.9M655.2 177.8v2.9h2.8v-2.9M662.1 177.8v2.9h2.8v-2.9M668.9 177.8v2.9h2.8v-2.9M675.7 177.8v2.9h2.8v-2.9M682.5 177.8v2.9h2.8v-2.9M689.3 177.8v2.9h2.8v-2.9M696.2 177.8v2.9h2.8v-2.9" fill="none" stroke="#a8a8a8" stroke-width=".5"/>
<path class="g" d="M716 174.5L722.5 182M719.5 173L727.5 180.5M723 171L731.5 178M726.5 169L734.5 175M722.5 182L734.5 175"/>
<path class="g" d="M534 166.5L528.5 175.5M538 168.8L533 177.5M542.5 171L537.5 179.5M547 173L543 181M528.5 175.5L543 181"/>
<rect x="593" y="85.3" width="5.1" height="7.6" fill="#ddd" stroke="#222" stroke-width=".9"/>
<rect x="630.8" y="107.8" width="5.1" height="7.4" fill="#ddd" stroke="#222" stroke-width=".9"/>
<pattern id="hx" width="1.6" height="1.6" patternUnits="userSpaceOnUse" patternTransform="rotate(45)"><path d="M0 .4H1.6M.4 0V1.6" stroke="#555" stroke-width=".6"/></pattern>
<path d="M590.9 115.6a4.6 4.6 0 1 0 9.2 0a4.6 4.6 0 1 0 -9.2 0ZM594.8 119.5a4.6 4.6 0 1 0 9.2 0a4.6 4.6 0 1 0 -9.2 0ZM590.9 123.4a4.6 4.6 0 1 0 9.2 0a4.6 4.6 0 1 0 -9.2 0ZM587 119.5a4.6 4.6 0 1 0 9.2 0a4.6 4.6 0 1 0 -9.2 0ZM591.6 115.6v7.8h7.8v-7.8Z" fill="#dedede"/><path d="M590.9 115.6a4.6 4.6 0 1 0 9.2 0a4.6 4.6 0 1 0 -9.2 0ZM594.8 119.5a4.6 4.6 0 1 0 9.2 0a4.6 4.6 0 1 0 -9.2 0ZM590.9 123.4a4.6 4.6 0 1 0 9.2 0a4.6 4.6 0 1 0 -9.2 0ZM587 119.5a4.6 4.6 0 1 0 9.2 0a4.6 4.6 0 1 0 -9.2 0ZM591.6 115.6v7.8h7.8v-7.8Z" fill="url(#hx)"/>
<path d="M628.5 134.6a4.6 4.6 0 1 0 9.2 0a4.6 4.6 0 1 0 -9.2 0ZM632.4 138.5a4.6 4.6 0 1 0 9.2 0a4.6 4.6 0 1 0 -9.2 0ZM628.5 142.4a4.6 4.6 0 1 0 9.2 0a4.6 4.6 0 1 0 -9.2 0ZM624.6 138.5a4.6 4.6 0 1 0 9.2 0a4.6 4.6 0 1 0 -9.2 0ZM629.2 134.6v7.8h7.8v-7.8Z" fill="#dedede"/><path d="M628.5 134.6a4.6 4.6 0 1 0 9.2 0a4.6 4.6 0 1 0 -9.2 0ZM632.4 138.5a4.6 4.6 0 1 0 9.2 0a4.6 4.6 0 1 0 -9.2 0ZM628.5 142.4a4.6 4.6 0 1 0 9.2 0a4.6 4.6 0 1 0 -9.2 0ZM624.6 138.5a4.6 4.6 0 1 0 9.2 0a4.6 4.6 0 1 0 -9.2 0ZM629.2 134.6v7.8h7.8v-7.8Z" fill="url(#hx)"/>
<path class="t" d="M623.4 75.2H595.4V85.7M587.8 85.7H602.6L595.4 92.4Z"/>
<text class="d" x="599.9" y="72.9" font-size="11" textLength="23.3" lengthAdjust="spacingAndGlyphs" text-anchor="start">11.481</text>
<path class="t" d="M661.5 93.4H633.3V108M626.4 108H640.6L633.3 114.8Z"/>
<text class="d" x="634.8" y="90.9" font-size="11" textLength="26" lengthAdjust="spacingAndGlyphs" text-anchor="start">10.627</text>
<path class="t" d="M500.8 130.2H546.6V151M538.7 144.4H553.7L546.6 151Z"/>
<text class="d" x="502.7" y="127.5" font-size="11" textLength="22.3" lengthAdjust="spacingAndGlyphs" text-anchor="start">9.385</text>
<path class="t" d="M691.9 130.2H646.4V151M639.1 144.5H654L646.4 151Z"/>
<text class="d" x="669.2" y="127.5" font-size="11" textLength="22.7" lengthAdjust="spacingAndGlyphs" text-anchor="start">9.385</text>
<path class="t" d="M367.4 158.1H391V174.6M383.2 168.4H399.2L391 174.6Z"/>
<text class="d" x="368.7" y="155.9" font-size="11" textLength="22.3" lengthAdjust="spacingAndGlyphs" text-anchor="start">8.718</text>
</svg>
</body></html>
